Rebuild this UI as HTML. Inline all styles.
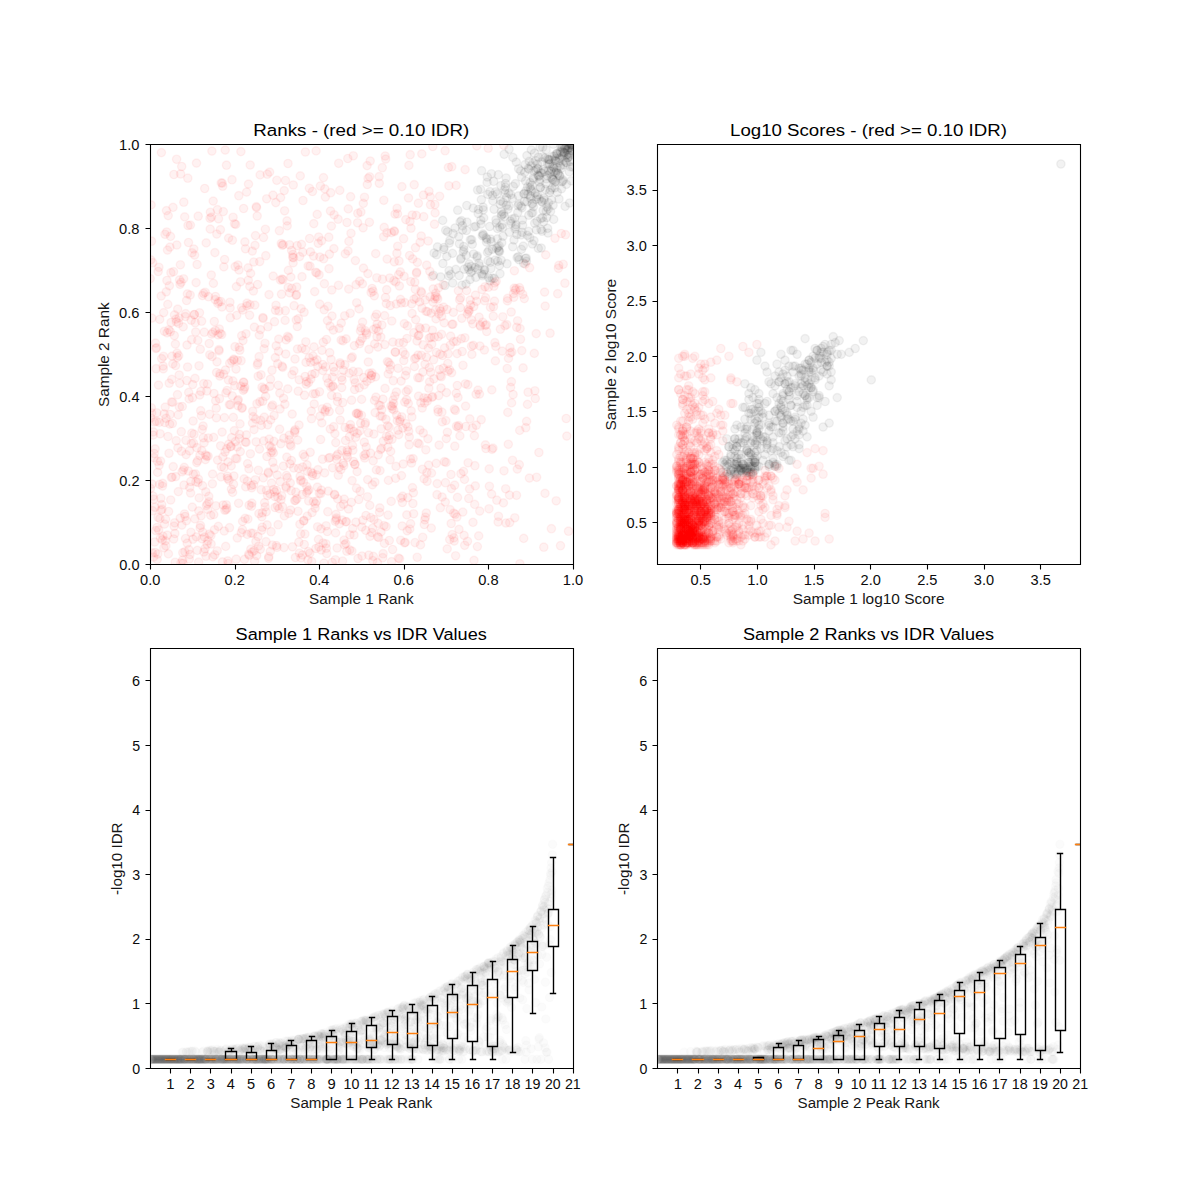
<!DOCTYPE html>
<html><head><meta charset="utf-8"><title>IDR</title>
<style>html,body{margin:0;padding:0;background:#fff}svg{display:block}text{font-family:'Liberation Sans', sans-serif}</style></head><body>
<svg width="1200" height="1200" viewBox="0 0 1200 1200">
<rect width="1200" height="1200" fill="#fff"/>
<defs>
<marker id="mr" viewBox="-6 -6 12 12" markerWidth="12" markerHeight="12" refX="0" refY="0" markerUnits="userSpaceOnUse" overflow="visible"><circle r="4.17" fill="#f00" fill-opacity="0.05" stroke="#f00" stroke-opacity="0.05" stroke-width="1.39"/></marker>
<marker id="mk" viewBox="-6 -6 12 12" markerWidth="12" markerHeight="12" refX="0" refY="0" markerUnits="userSpaceOnUse" overflow="visible"><circle r="4.17" fill="#000" fill-opacity="0.05" stroke="#000" stroke-opacity="0.05" stroke-width="1.39"/></marker>
<marker id="mg" viewBox="-6 -6 12 12" markerWidth="12" markerHeight="12" refX="0" refY="0" markerUnits="userSpaceOnUse" overflow="visible"><circle r="4.17" fill="#000" fill-opacity="0.0157" stroke="#000" stroke-opacity="0.0118" stroke-width="1.39"/></marker>
<clipPath id="c00"><rect x="150" y="144" width="423.2" height="420.5"/></clipPath>
<clipPath id="c01"><rect x="150" y="648" width="423.2" height="420.5"/></clipPath>
<clipPath id="c10"><rect x="657.3" y="144" width="423.2" height="420.5"/></clipPath>
<clipPath id="c11"><rect x="657.3" y="648" width="423.2" height="420.5"/></clipPath>
</defs>
<polyline clip-path="url(#c00)" points="164.6,524.1 422.7,537.3 350.8,428.3 355,464.2 336.6,455.9 347,222.5 161.6,358.6 322.5,459.2 451.4,488.6 292.5,546.8 412.1,313.5 180.2,518.2 433.9,378.8 251.7,487.8 387.4,361.6 159.7,319.4 444.6,347.9 514.8,517.8 445.9,420.6 213.8,514.6 395,214.1 450.1,509.6 396.7,415.1 376.2,328.2 177.9,447.9 168,436.5 249.3,555.4 368.8,555.2 474.7,504.4 164.2,413.9 193.8,249 346.1,338.9 369.8,505.4 166.3,291.8 318.2,243.3 192.1,252.8 209.6,414.3 228,461.9 312.5,191.5 399,261 303.9,520.5 204.3,332.2 372.4,484.8 392.2,408.6 356.1,284.7 358.4,371.9 299.9,524.3 184.7,216.9 315.9,548.5 257.8,363 192.3,507.1 398.8,434.6 222.9,456.9 359.2,387.8 275.5,310.3 319.7,304.2 196.7,462.6 265.4,229.3 324.2,309.7 475.3,485.9 252.5,423.1 279.8,393.1 406,423.7 188.5,242.5 261.8,516.8 281,499.7 269,294.6 457.5,497.4 375.3,317 201.6,321.2 302,276.7 268.2,472.2 197.6,460.7 289.5,244.8 399.4,286 262,387.2 369,349.4 236.7,315.4 366.4,333 413.4,492.8 157.2,559.6 320.4,186 367.9,273.6 267.1,524.9 381.2,428.8 425.4,517.2 411.7,303.8 184.2,467.4 162,509.2 354.2,379.6 513.5,293.5 372.1,288.5 279.1,508.6 454.6,485.2 287.8,388.9 315.1,508.1 153.8,499.3 346.6,455.2 311.9,374.4 258.2,376.3 171.8,379.4 210.7,515.3 290.3,482.9 210.4,212.3 198.2,216.2 306,362.4 206.4,505.6 277.2,475 354.6,389.5 234.5,223.8 194.6,255.1 266.5,490.3 182.1,471.8 285.7,354 153.6,557.1 301.3,480 388,515.1 173,207.4 183.4,470.1 156.1,368.7 161.2,296 199.2,497.9 324,563.2 326.5,339.5 392.9,342 401.7,416.8 152.3,552.9 208.5,296.7 249.6,315.2 177.7,309.1 369.4,222.3 379.8,507.9 266,541.7 168.6,511.5 233.9,476 362,556 338.3,475.2 272.2,451 303.7,521 151.3,407.8 314.2,404 191.6,339.7 227.8,560.9 425.8,449.8 492,449.3 355.9,522.2 162.7,483.4 454.4,409.2 244.9,241.9 468.1,462.8 269.8,386.3 235.8,224.4 241.9,408.4 380.8,337 467.5,541.3 405.3,542.4 406.8,514.9 162.3,539.9 181.3,431.7 529.4,478.1 254.8,305.1 233.7,359.2 326.7,553.5 170.9,272.7 479.7,511.1 355.7,437.2 327.8,511.7 447.2,548.9 163.3,368.9 295.4,557.5 474,560.4 273.4,452.9 362.4,283.9 219.1,350.9 264.3,417.2 517.6,320.8 314,346.9 196.1,282.6 395.2,351.9 289.9,463.8 294.6,500.6 204.5,537.1 207.7,509.4 268.6,558.3 281.7,495.8 197.8,340.4 476.3,425.2 371.1,292.5 476.1,394.3 297.5,349 393.5,403.6 320.6,439.5 213,332.4 157,527.5 367.5,496.8 234.1,360.1 250.8,549.1 220,373.7 167.3,535.2 397.9,430.2 383.3,441.2 178.1,414.9 177.5,394.7 305.8,341.8 326.9,378.2 201.1,515.7 460.9,473.7 292.7,257.2 197.3,550.4 169.7,424.1 401.3,303 284.9,404.2 164.8,422.5 184.9,551.8 159.9,518.6 363.1,227.8 286.1,339.9 220.8,301.5 293.7,468 202.6,485.7 237.9,265 386.5,436.3 445.5,482.7 211.5,217.1 381.9,325 433.6,359.7 162.5,486.1 352.3,356.9 422.2,408 437.9,409.4 229.3,404.6 263.3,477.9 414.8,282.2 310.4,251.9 201.4,415.7 453.7,513.2 170.1,414.5 412.7,258.9 270.3,551.4 188.9,549.7 284.6,210.8 319.3,493.2 373.4,556.4 206,556.2 300.1,476.4 200.9,391.4 308.1,266 380.6,449.6 395.6,478.3 293.5,257.8 229.9,302.3 336.2,519.7 269.4,445.6 291.6,250.5 511.9,352.1 169.9,247.1 336.4,518 203.1,426 245.1,518.4 361.2,327.8 176,319.1 189.3,559 349.3,373.1 278.5,351.3 237.1,446.8 200.1,527.9 485.9,448.5 455.4,410.5 408.5,198 311.1,472 474.9,465.7 238.8,195.7 227.4,476.2 262.9,317.5 355.4,260.6 248.7,554.3 362.6,322.1 165.2,407.1 284.4,515.9 382.5,279.2 346.4,521.6 262.7,401.2 276.4,545.5 335.6,532.9 341.7,387.6 150.2,278.6 238.1,405.7 309.8,553.3 323.1,543 154,457.7 312.1,512.5 174.1,526.2 243.8,382.4 410,221.5 195.9,481.9 358.8,499.5 231.2,465.9 339.2,467.2 172.6,402.3 203.7,383.6 156.3,421.2 291.4,460.5 332.4,377.1 192.5,397.7 322.7,364.5 287,220.9 301.8,348.3 388.2,374 233.1,217.3 274.3,468.2 419.5,377.9 170.3,331.7 471.9,354.4 363.9,455.6 351.9,551 212.1,356.5 242.6,521.4 154.7,542 292.9,254.5 328.8,237.2 351,233.3 259.7,261.6 205.6,455 215.3,330.5 416.3,215.4 224.4,417.6 151.1,204.9 231.8,361.1 187.4,293.9 347.8,158.5 498.5,516.3 404.3,323.6 280.8,443.7 232.6,492.4 454.2,541.1 192.7,384.5 462.8,512.1 285.5,180.5 399.8,421.6 315.7,272.3 409.3,437 429.8,271.3 226.9,508.4 212.4,483.8 267.7,424.8 221.7,334.5 295.6,500.4 289.1,439.9 240.3,451.6 377.6,536.7 187,345 293.3,185 283.4,466.1 379.3,183.3 414.4,366.6 326.1,525.8 458.6,425.6 259.1,356.7 234.3,430.6 314.9,373.5 213.2,201.1 420.5,544.9 266.7,198.8 441.7,316.4 345.7,521.8 158.5,385.1 281.3,243.5 442.3,421.8 254,429.6 282.9,279.7 471.5,346.2 333.9,248.6 191.4,443.5 400.3,271.9 384.4,543.4 319.1,274.8 221.4,466.8 231,446.6 290.1,444.5 395.4,352.3 183.8,202.2 271.3,447.4 325.2,410.1 276.2,345.8 239.2,347.3 332,316 304.3,544.5 260.8,420.4 368.5,432.8 379.1,176.6 459.9,435.9 383.1,553.7 193.3,474.3 253.6,484.6 512.5,460.3 211.1,544 228.6,238.1 375.5,376.9 329.2,411.5 425,364.1 172.2,477.1 564.9,283.2 272.8,462.2 249.8,286.4 368.1,178.4 244.3,389.1 216.6,372.5 364.3,442.2 221,476.9 303,200.5 159.3,422.2 259.9,401.7 403.2,464 274.1,415.5 223.3,211.6 480.1,325.2 255,245.4 345.1,427.5 427.3,401 334.1,214.8 189.1,398.9 187.8,178.2 505.7,488.8 310.8,379 304.9,534 168.8,329.9 420.8,402.7 421.2,236 185.9,440.3 169.2,383.2 218.9,349.6 432.6,396.6 337.7,498.9 177.3,357.4 315.3,503.7 255.5,235.6 365.2,330.7 313.2,393.9 241.3,532.7 309.4,188.3 228.4,380 239.8,350.2 160.1,433.8 349.1,428.6 246.2,442.4 298,511.3 456.1,185.4 193.5,443.2 160.8,498.3 253.4,291 215.1,299.6 242.2,407.6 269.2,439.1 417.4,262.4 448.9,185.8 155.5,343.1 316.6,501.2 288,163.5 357.8,213.3 217.6,460.1 367.7,479.6 297.1,245.6 268.4,473.3 351.4,502.3 166.1,418.3 360.5,330.9 251,533.1 152.1,484 247,303.2 244.5,559.4 251.2,485.5 259.3,335.1 437.2,483.6 416.7,272.1 244.1,478.9 311.3,411.1 178.3,491.6 389.9,369.3 237.3,538 333,385.9 321.6,240.8 385.7,159.1 424.1,478.7 400.7,540.3 200.7,410.7 382.9,399.1 261.6,530.2 265.6,396.4 205,548.7 214.3,321.5 534.9,390.8 165.4,540.9 196.3,536.9 277.9,497.2 353.1,371.4 190.2,295 282.7,367.4 306.2,384.2 330.5,211 340.4,364.3 241.5,307.8 248.9,468.7 252.7,411.3 201.8,450.6 156.8,412.8 344,540.1 151.7,413 365,424.4 414.2,184.7 246.6,192.1 264.6,502.7 350.2,313.3 374.5,400.4 343.2,463.2 254.4,327.1 317.8,366.4 293.1,262.9 338.1,219.2 364.5,197.3 378.1,523.3 245.5,248.8 257.4,364.9 511.6,402.9 158.2,271.5 301.1,308.6 287.2,225.9 380.2,416 194.4,314.5 331.4,226.1 356.9,413.6 489.2,468.9 284.2,190.6 434.3,337.2 372.8,560.6 302.2,494.5 229.7,363.2 333.7,426.7 203.3,437.8 388.8,362.6 325.4,197.1 398.6,274.6 161.8,504.6 390.7,451.4 288.4,270.4 270.9,452.7 175.2,562.3 380.4,405.5 255.7,419.1 267.9,326.7 273.6,489.5 448.4,167.5 429.6,381.9 407.7,497.6 378.5,331.1 313,355.9 403,351.7 418.9,335.3 302.6,467 443.2,284.9 218.1,334.9 347.2,450 260.1,174.9 465.8,426.5 451.2,523.5 208.8,496.4 342.3,520.1 288.2,287.4 152.7,262.7 358,558.5 328.6,458.2 224.8,510.2 285.9,486.5 177.1,353.2 489,508.8 275.8,202.6 307,464.9 309.6,238.5 286.8,457.1 370.9,378.6 288.7,337.6 342.6,561.1 410.6,523.7 394.8,396 385.9,419.3 246,333.8 204.1,442.8 334.7,494.9 294.1,305.7 237.5,360.3 273.9,441.4 389.3,540.5 370.5,453.1 278.1,524.7 316.3,474.8 216.2,408.2 315.5,393.7 236,369.1 332.8,386.6 413.1,458.6 256.9,403.8 257.2,216 316.8,272.9 404.5,542.8 424.8,519.9 264.1,348.8 161,510.4 458.4,290.8 186.4,520.7 214.7,554.8 451,474.5 248.1,267.9 329.4,254.2 215.7,400.8 331.6,395.4 222.5,561.9 172.8,363.9 179,317.9 438.3,336.6 282.1,366.2 319.9,257 383.8,200.3 456.9,517 535.3,398.5 396.2,304 175.8,476.6 536.6,477.3 442.1,497 390.1,459.8 228.2,563.6 181.1,282.4 409.1,444.7 332.2,562.5 521.8,350.6 232.2,395.8 188,225.5 337.5,401.5 250.6,273.4 347.6,451.9 157.6,472.4 321.2,550.1 420.3,328.8 373.8,434 278.7,339.1 386.7,289.7 387.6,425.8 274.5,321.7 344.2,499.1 263.7,440.9 287.4,477.7 198.4,479.2 481.2,419.7 397.7,246.3 393.3,380.7 218.7,301.7 168.4,553.9 158.7,530 218.3,526.4 375.7,253.6 300.9,557.9 283.6,398.3 327.3,531.5 273.2,276.1 173.7,539 205.8,491.8 286.3,488 366.2,447 211.7,334.1 234.8,385.7 296.7,287 561.3,233.5 455.2,514.2 235.6,458.4 376.6,314.3 479.9,346 445.3,502.1 252.9,533.3 226.1,509.8 340.6,506.5 359.9,430.9 191.2,320.2 363.7,377.5 207.5,384 335.8,442.6 351.2,358.2 328.2,491.1 263.1,318.5 343.8,465.5 194,434.2 202.2,429.4 314.4,361.4 256.1,441.8 233.3,417.4 319.5,391.8 523.1,367.9 153.2,435.1 348,250.9 214.5,529.8 367.1,165.6 360.7,423.3 165.6,519.3 163.1,366 388.4,480.4 231.4,489.2 205.4,459.6 360.3,341.2 339.6,410.3 264.8,389.3 374,519.5 344.5,544.7 182.6,560.2 203.5,293.3 402.6,496.2 396.9,253.2 199.7,395 300.5,480.8 175.4,344.1 161.4,152.6 235.2,266.6 154.9,507.3 214,393.5 377.4,562.7 276.6,490.5 343,340.8 238.3,399.6 253.8,262 514.2,288.1 395.8,282 296.3,320 263.5,237.5 266.2,511.9 502.3,351.1 339.8,190.4 325.9,543.8 182.8,552.7 408.9,165.4 194.8,518.9 279.4,230.7 343.4,370.4 235.4,441.6 411.5,463 398.4,558.1 246.4,434.9 274.7,492 223.6,374.2 390.3,305.5 361.8,527 256.5,207.6 258,536.5 208.1,456.1 160.6,461.1 154.4,422 436.2,463.4 321.4,490.1 391.2,501.4 196.9,447.7 339.4,523.9 508.5,358.4 392.6,549.5 164.4,331.3 371.9,372.9 176.2,440.7 369.2,373.3 303.2,454.4 226.7,448.7 307.9,560 173.2,466.6 272,370.2 198,482.5 293.9,370.8 446.1,462.4 424.6,403.1 225.5,370 185.7,313.7 354.8,464.5 419.9,430 223.8,266.9 386.9,232.8 235,346.7 276,305.3 285.3,310.7 418.4,203.2 346.8,551.2 298.8,542.2 209,501.8 206.6,456.3 273,195.2 254.2,550.6 208.3,438 417.6,443 209.4,534.2 156.6,347.7 307.3,516.1 299.4,553.1 176.6,159.3 328,306.3 391.8,321 455.6,555.8 289.7,292.9 195.4,473.9 338.5,285.3 392,439.3 166.7,232 283.2,244.6 381,531.9 384.8,344.6 305.6,349.8 441.9,412.2 207.3,503.9 366.6,334.7 189.9,554.5 348.3,208.9 153,496 519.3,464.7 200.5,525.4 255.3,479.8 174.9,533.5 305.1,376.5 389.7,278 449.7,539.6 469.8,418.9 403.6,238.7 190.6,493 519.7,430.4 249.1,505.2 402.4,502.5 305.4,152 371.3,375.2 280.6,197.6 342.8,402.5 294.4,431.1 311.7,561.5 290.6,510 389.5,435.5 365.8,530.4 304.1,312.2 392.4,406.3 259.5,449.1 328.4,383 313.6,256.1 493,448.1 371.7,532.5 403.4,342.5 275.1,507.5 382.1,416.4 308.9,489.9 195.2,322.7 357.3,433.4 438.7,395.6 479.5,394.1 333.3,330.1 295.8,492.2 384,525.6 150.6,418.1 277.7,363.7 241.1,360.7 464.5,479.4 318.5,539.4 348.5,509 299.6,256.6 192.9,539.2 322,350.4 468.7,498.5 464.7,545.3 306.6,492.6 402.2,526 331.8,290 171.3,477.5 362.8,520.3 247.6,463.6 239,270 243.6,208.5 411.9,417 412.9,503.5 344.9,364.7 493.3,316.2 453.3,312.4 242.4,529.6 306.4,381.5 393.9,280.7 402.8,428.1 485.6,297.7 172.4,423.5 330.9,386.8 422.4,469.3 338.7,163.3 385.5,297.5 207.1,544.3 299.2,379.8 317,359.9 248.3,280.3 352.7,528.5 456.7,341.4 407.9,426.9 271.1,531.7 331.1,359.5 434.9,204.5 178.7,355.7 414.6,358.8 307.5,471.2 360.9,212 295,359 318.7,237 387.8,447.2 179.4,406.9 301.5,244.4 174.7,522.8 383.6,236.8 277,547.4 187.2,543.2 230.1,308 195.7,332 263.9,388.7 272.6,405 213.6,437.4 250,304.7 217.8,303.4 247.4,481.1 359.5,343.7 184.5,514 223.1,505 381.4,448.3 435.1,212.9 294.8,432.5 300.7,533.8 254.6,561.3 370.7,517.6 236.4,286.6 409.6,255.5 270.7,419.9 219.8,376.1 231.6,437.6 189.5,450.8 400.9,498.1 251.5,506.2 203.9,552 317.2,214.4 463.5,471.4 302.4,555 252.1,552.2 245.3,442 325.6,366.8 174.3,335.5 327.1,407.3 155.7,530.6 349.7,549.9 452.9,324.2 275.3,357.6 183,563.4 285.1,320.4 200.3,349.2 396,466.4 160.4,538.2 425.6,328 413.6,513.8 227.6,478.5 388.6,439.7 185.5,538.6 496.8,500.2 345.3,253.8 256.7,555.6 243,340.6 362.2,338.2 520.5,339.3 391,405.9 187.6,367 300.3,175.9 401.1,381.1 391.6,561.7 473.4,345.4 220.2,333.4 272.4,545.1 265.2,506.9 202,538.8 284,547.6 337.1,548 409.8,529.1 380,470.6 374.3,295.8 229.1,480.2 225.9,392.9 169,453.3 166.9,280.5 281.5,294.2 226.5,165.2 308.5,382.6 202.8,532.1 489.4,486.3 190.4,225.1 183.6,278.8 258.9,513.6 433.2,288.9 261.2,489.7 243.2,390.3 437,494.7 287.6,336.4 447.4,432.3 407,338.5 320.1,416.2 410.8,281.6 427.9,438.8 516.7,327.3 354.4,345.6 266.9,456.5 379.5,512.3 191.8,433.2 282.5,506.7 352.9,450.2 440.8,311.2 526.6,421.4 222.1,432.1 262.4,512.8 261,374.8 473,522.4 152.5,510.7 198.8,510.9 373.6,329.4 386.1,526.6 298.4,318.7 170.7,500 427.1,481.3 165.9,545.9 233.5,484.2 250.2,165 179.8,383.4 374.7,343.9 210.9,535.6 439.1,445.1 357.6,222.8 431.3,528.1 157.4,461.3 335.4,559.8 199.5,312.8 441,388 459,529.4 209.8,354.8 172,356.1 289.3,435.3 373.2,460.9 440.2,375.8 347.4,457.3 279.6,429.2 277.5,506 515.2,290.2 158,517.4 351.6,400.2 341.9,450.4 232.9,380.9 224.2,531 350.4,424.6 219.3,329 204.7,188.5 186.8,380.5 403.8,360.5 340,362.8 430.3,196.9 411,228.2 215.9,505.8 321.8,422.9 292,374.6 186.1,454.6 181.9,525.1 375.1,412.6 419.3,327.5 210,218.3 163.7,312.6 423.7,216.7 189.7,487.4 309.2,357.8 261.4,425.4 199,365.8 240,423.9 244.7,387 296.5,294.8 242.8,310.1 333.5,367.2 374.9,482.1 184,485 194.2,314.7 304.5,395.2 151.9,318.1 180,284.3 320.8,493.6 175.6,365.6 230.5,404.8 509.5,495.1 372.6,528.3 340.9,469.5 217,361.8 213.4,283.4 356.5,488.2 218.5,218.8 377.2,324 366,515.5 491.6,494.1 329,268.7 415,542.6 268.8,556.6 256.3,206.6 258.4,470.3 191,532.3 307.7,490.9 311.5,418.7 247.2,534.4 464.1,535.4 397.1,208.3 361.4,415.3 267.5,495.5 310.2,452.3 423.5,195 159.1,465.3 271.7,406.7 183.2,326.9 229.5,527.7 330.3,429 400,419.5 477.4,546.6 306.8,486.7 422,308.2 282.3,245.2 400.5,299.4 343.6,504.2 394.3,261.8 410.4,459 394.5,231.6 225.7,546.4 195,378.4 262.2,527.2 216.4,417.8 157.8,554.1 181.5,451.2 317.6,526.8 185.3,316.6 310.6,362.2 344.7,315.8 219.5,398.7 365.4,422.7 323.3,342.2 167.5,250.1 296.1,295.4 381.7,409.7 190.8,481.5 349.9,534.8 150.4,488.4 444.4,461.7 339,328.4 356.7,302.8 180.6,174 349.5,436.7 162.9,536.1 295.2,429.8 274.9,496.6 324.6,472.9 427.5,311.6 186.6,300.5 298.6,468.4 240.7,386.1 385,388.4 291,446 419.7,301.9 422.9,372.1 426.5,357.2 423.1,344.8 406.4,371 448,371.2 406.6,399.8 441.3,376.7 296.9,498.7 452,324.4 438.1,412 425.2,300 440,354.2 375.9,397.1 435.6,309.9 457.1,353.6 486.3,324.8 421.4,355.3 494.7,282.8 513.8,297.3 364.1,384.9 430.9,337.4 408.1,389.7 436.8,297.1 398.1,368.3 482.1,289.5 490.5,307.4 358.6,414.7 514.4,270.8 405.5,375.4 378.9,405.2 291.2,490.7 313.4,501.6 447.8,363.5 471.3,319.8 431.7,344.3 438.5,287.9 480.4,326.3 430.1,296.9 435.3,296.3 217.2,550.8 473.8,306.5 418.6,396.2 389.1,427.1 304.7,456.7 475.5,295.2 418.2,335.9 312.8,473.5 493.5,306.8 378.3,454.8 396.4,392 485,286.8 449.5,369.8 399.2,342.9 417.8,377.7 516.1,288.7 377.9,347.1 466.6,290.6 472.8,323.8 421.6,292.7 450.6,336.2 303.4,482.3 404.7,402.1 286.5,475.4 416.1,298.1 393.1,400 468.3,309.3 429.2,338 461.3,338.7 493.9,286.2 280.2,481.7 460.5,297.9 406.2,391.6 207.9,540.7 357.1,471.6 238.6,503.3 353.8,431.5 393.7,409.9 337.3,396.8 428.8,388.2 428.4,348.1 332.6,467.8 426,311.4 418,355.1 325,411.8 297.7,440.1 352.5,445.4 443.6,307.2 520.3,290.4 356.3,413.4 450.3,345.2 464.9,337.8 461.8,318.3 414,299.2 417,341 484.6,300.7 439.8,308.4 415.9,358 358.2,413.2 468.5,311.8 536.2,333.6 308.7,501 446.5,392.6 432,397.3 467.3,314.1 415.3,289.3 430.5,204.7 434.5,224.2 558.8,265.4 486.7,331.5 525.2,264.1 444.2,322.9 253.1,416.6 423.9,397.9 437.7,299 416.5,273.2 508.3,444.3 485.2,325.4 373,291.2 507.4,300.9 495.4,360.9 458,397.5 520.1,328.6 494.9,342.7 419.1,443.9 376.4,469.9 329.9,457.5 511.2,312 387.1,259.1 429,191.3 472.5,427.9 557.7,293.7 434.7,298.8 529.6,267.7 441.5,334.3 280,409 436,318.9 428.2,241 563.2,264.3 510.6,387.4 502.8,316.8 510,347.5 460.3,307.6 456.5,426.2 545.7,254.9 421,291.4 463,365.3 544.6,292.1 426.9,472.7 448.2,353.8 555,238.3 485.4,444.9 341.1,340.1 401.5,475.6 465.6,406.1 458.2,427.3 459.6,299.8 513.1,394.5 451.6,372.7 365.6,454 476.6,301.3 376.8,277.8 363.5,268.1 440.4,507.7 439.6,196.3 408.3,403.4 524.3,298.6 507.8,412.4 482.7,322.3 397.3,420.8 432.2,276.5 415.5,247.7 467.9,384.7 451.8,166.7 503.8,145.3 507.2,368.5 335.2,521.2 494.5,301.1 528.1,392.2 558.4,268.3 496.2,281.3 479.1,317.2 470.6,304.9 488.4,287.2 435.8,293.1 453.5,341.6 474.4,435.7 491.8,389.9 500.4,329.2 405.8,219.6 465.1,169.6 250.4,453.8 527.5,404.4 510.2,353 360.1,491.3 506.8,324.6 408.7,431.3 405.1,354.6 334.5,494.3 565.5,234.7 404.9,302.6 457.3,385.5 390.5,365.1 442.5,355.5 180.9,563 361.6,399.4 366.9,381.3 447,309.5 298.2,391.2 523.7,538.4 243.4,382.1 498.1,522 420.1,242.3 504,470.8 283.8,438.2 302.8,252.2 239.4,438.4 430.7,372.3 225.2,150.1 257.6,284.5 222.3,183.1 423.3,433 220.4,229.7 509.7,522.6 507.6,298.4 290.8,277.1 354,535 370.2,161 469.4,310.5 260.3,549.3 519.9,563.8 503.4,502.9 412.3,215 377,336.8 214.9,252.6 170.5,236.4 566.8,436.1 198.6,562.1 336,514.4 370,536.3 299,425 260.5,329.6 384.6,315.6 230.7,446.4 318.9,547 433,302.1 504.9,325.7 318,469.7 453.9,537.8 150.8,259.9 173.5,271.7 432.8,146.5 355.2,382.8 245.7,486.9 226.3,504.8 267.3,174.2 538.9,452.5 212.6,474.1 336.8,459.4 369.6,176.8 211.3,275 431.5,473.1 281.9,279 280.4,280.1 291.8,288.3 345.5,440.5 312.3,475.8 321,528.9 169.4,285.8 173.9,174.5 505.9,523 158.9,267.3 181.7,166.5 228.8,444.1 431.1,313.1 391.4,232.6 462.2,351.5 378.7,537.5 323.7,258.7 517.3,469.1 415.7,319.6 439.4,369.5 155.1,448.9 478,390.1 247.9,519.1 221.9,307 255.9,541.5 495.8,346.4 525.8,427.7 215.5,296.5 352.1,480.6 476.8,145.9 248.5,184.1 241.7,335.7 534.3,353.4 371.5,375.6 171.1,322.5 456.3,393.3 429.4,367.6 516.5,495.3 566.2,418.5 436.4,352.5 364.7,458 556.2,500.8 308.3,551.6 174.5,314.9 252.3,251.1 384.2,227.4 411.2,410.9 330.1,326.1 413.8,332.6 270.1,493.9 310,266.2 278.9,311 545,493.4 550.1,333.2 519.5,287.6 278.3,385.3 206.9,391 443.4,368.1 511.4,381.7 199.9,455.4 323.5,177.6 353.3,155.8 560.5,545.7 182.3,406.5 171.6,401.9 382.3,167.7 551.4,528.7 224,467.6 438.9,313.9 179.6,279.9 269.6,172.1 568.5,531.2 236.2,559.2 155.9,348.5 236.9,458.8 258.6,546.1 368.3,362 445.1,150.7 165,234.3 297.3,326.5 197.1,264.5 163.9,547.8 394.1,230.9 488.2,148.2 202.4,295.6 271.5,483.1 417.2,557.3 193.1,421 363.3,203.4 240.9,151.6 246.8,305.9 484.4,350 426.7,265.2 159.5,484.4 545.2,306.1 469.6,489 240.5,281.8 454.8,446.2 211.9,151.1 330.7,192.7 179.2,375 288.9,513.4 317.4,487.1 359.7,281.1 210.2,229.1 180.4,264.8 176.8,245 465.4,383.8 367.3,184.5 322.3,408.8 426.3,513 225,452.1 348.9,241.4 428.6,465.1 166.5,210.6 452.2,534.6 313.8,223.6 412.5,487.6 292.2,414.1 220.6,445.8 188.3,471 348.7,289.1 334.9,433.6 432.4,330.3 397.5,213.9 399.6,558.8 382.7,557.7 232.4,240.2 155.3,552.5 407.4,325.9 446.3,438.6 340.2,420.1 167.1,332.8 427.7,398.1 522.8,294.4 237.7,400.6 206.2,242.9 341.5,377.3 176.4,321.9 151.5,241.2 342.1,380.2 329.7,352.7 185.1,516.5 251.9,503.1 276.8,180.3 154.2,453.5 322.9,370.6 334.3,371.6 196.5,163.1 232,179.7 350.6,196.7 326.3,548.2 217.4,209.7 407.2,530.8 227.1,390.5 345.9,543.6 167.8,304.4 470.2,300.2 222.7,186.2 209.2,343.5 221.2,182.9 359,308.9 424.3,524.5 543.8,547.2 168.2,215.6 265.8,255.7 421.8,153.9 314.7,291.6 163.5,356.3 324.4,283.7 230.3,317.7 265,343.3 153.4,431.9 188.7,392.4 353.5,461.5 401.9,186.6 386.3,303.6 327.5,320.6 216.8,234.1 205.2,292.3 212.8,556.9 478.7,535.9 324.8,188.9 239.6,434.4 404.1,276.3 385.2,156 410.2,154.7 224.6,259.5 337.9,454.2 178.5,323.3 341.3,323.1 270.5,379.2 316.1,150.9" fill="none" stroke="none" marker-start="url(#mr)" marker-mid="url(#mr)" marker-end="url(#mr)"/>
<polyline clip-path="url(#c00)" points="489.7,226.5 543.6,221.7 500.9,185.6 445.7,230.3 522,207.8 466.2,255.3 452.7,283 490.1,280.9 466.8,205.5 434.1,253 483.3,209.9 508.9,206 487.8,194.4 546.3,211.2 478.9,263.1 433.4,275.3 531.9,185.2 444,247.5 525.6,181 501.3,215.8 449.3,243.1 467,222.1 442.9,263.5 491.1,241.7 572.1,149 539.8,179.1 497.3,238.9 475.9,277.4 536.8,196.5 510.8,194.6 556,161.2 488.8,250.7 532.4,244 520.9,206.2 472.3,244.2 492.6,195.5 500.2,204.3 462,285.1 473.2,208.1 552.2,156.4 554.1,171.9 552.6,179.5 530,187.5 527.9,194.2 496.6,248.2 564.3,148.8 555.4,158.7 555.2,160.4 547.2,175.5 501.5,211.8 571.7,144.6 464.3,269.2 525,164.6 565.3,148.6 440.6,276.9 484.2,270.2 564.7,152.4 553.9,167.9 477.2,255.9 452.5,253.4 493.7,181.4 524.5,201.5 570,148 536,199.4 521.6,177.2 486.1,237.9 555.6,181.6 535.5,160.8 483.5,235.1 567.9,157.7 523.9,194 503.6,213.7 517.8,212.5 538.1,169.2 533.2,177.8 488,260.8 537.6,194.8 569.8,153 437.5,246.9 540.8,218.6 529.2,161.4 568.3,148.4 572.3,146.1 482.3,235.8 499.4,265.6 478.5,209.5 502.1,224.6 559.8,176.1 481.8,274 563.4,164.8 470.8,272.5 466,284.1 484,274.2 556.5,170.5 462.6,230.1 553.5,180.1 545.9,183.9 533.6,179.3 490.9,268.5 490.7,239.1 500,273.8 547.4,158.9 487.5,252.4 561.1,168.2 487.1,182.4 502.6,227.6 566.6,154.9 542.5,217.7 527.1,201.8 512.7,246.7 557.3,192.3 538.3,248.4 504.7,189.8 530.9,189.2 561.7,181.8 499.6,251.5 479.3,265.8 461.1,258.2 540.2,187.7 536.4,229.9 515.4,183.7 535.1,192.9 552.9,166.3 512.1,219 550.3,190.2 551.8,169 463.2,251.7 495.2,260.1 544.8,158.1 497.9,247.3 549.5,192.5 492.4,249.2 516.9,234.5 538.5,157.2 563.6,152.8 562.4,146.9 560,151.4 546.5,178.7 530.7,198.6 519,259.7 518.8,204.1 526,190.8 548.4,202.8 572.5,144.4 567.4,149.5 570.6,145.1 525.4,258.5 486.5,242.1 470,279.5 459.2,275.5 530.5,196.1 560.7,152.2 563.8,155.3 556.7,153.7 518.2,256.8 499,251.3 522.4,220 568.9,147.6 463.9,249.8 529,169.4 535.7,170 537.4,164.2 450.8,274.4 504.5,216.5 521.2,234.9 549.7,163.7 449.1,270.6 455.8,269.4 505.5,183.5 537.2,168.6 515.7,226.7 550.7,160 506.1,178 539.1,175.7 532.1,203.6 527.7,186.8 505.3,187.1 557.5,154.5 560.3,166.1 568.7,157 558.1,173.6 549.9,173.4 509.3,232.2 548.8,159.5 501.7,242.7 547.8,164 480.8,220.2 557.1,167.3 539.5,182 567.7,157.9 467.7,267.1 468.9,269.8 544.2,200.1 554.8,187.9 482.5,275.7 518,205.7 540.4,187.3 541.7,161.9 552.4,178.9 564.5,160.6 541.4,201.3 523.3,246.1 554.3,156.2 524.1,193.6 495.6,191.9 473.6,254 507,263.7 534.7,223.2 537.9,175.1 472.1,271.1 499.8,227.2 548.6,170.3 533.4,206.8 562.2,156.6 531.1,165.8 501.1,260.3 492.8,200.7 549.1,159.8 558.6,162.5 540.6,172.8 508.7,193.4 496.4,223 522.6,225.3 505.1,193.1 514,240 559.6,158.3 556.9,153.5 552,188.1 482.9,233.9 501.9,214.6 466.4,230.5 490.3,262.2 483.1,207.2 570.4,166.9 512.3,198.4 571.2,180.8 528.6,231.4 460.1,221.9 526.9,155.6 532.6,203.9 570.2,161.6 569.6,203 570.8,144 538.7,176.3 481.4,199.7 477,257.4 561.5,188.7 459.4,243.8 457.7,210.2 571.5,150.3 569.1,155.1 458.8,236.6 460.7,259.3 436.6,254.7 524.7,172.4 516.3,162.1 497.7,261.2 545.5,189.6 566,145.7 469.2,263.9 542.7,147.2 544,198.2 522.2,232.4 565.8,162.3 560.9,146.7 515.9,224.9 547.6,228.4 571.9,150.5 542.3,202 562.8,181.2 513.3,186.4 517.1,257.6 543.3,169.8 503.2,202.4 571,144.8 443.8,249.6 531.5,213.1 561.9,147.8 526.2,258 530.2,182.6 568.1,154.1 567.2,162.9 471.7,239.6 447.6,231.8 477.8,269 442.7,220.4 548,233 546.7,217.5 475.7,226.3 567,145.5 489.9,191.7 508,209.1 484.8,269.6 563,179.9 559,199 496,219.8 500.7,200.9 477.6,190 446.8,256.4 572.7,167.1 509.1,149.3 527.3,235.4 463.7,246.5 492.2,278.2 515,228.8 461.5,220.7 569.3,171.7 499.2,245.9 531.7,191 555.8,172.6 559.2,160.2 521.4,249.4 541.9,173 498.7,250.3 534,240.6 448.7,275.9 542.1,231.2 553.7,219.4 444.9,285.5 531.3,149.9 520.7,170.9 475.1,267.5 518.4,195.9 564.1,146.3 534.5,153.2 514.6,218.1 551.2,177.4 455,228 497.1,193.8 528.3,168.4 480.6,189.4 518.6,168.8 487.3,177 544.4,171.5 470.4,239.8 453.1,233.7 449.9,240.4 491.4,173.8 497.5,228.6 483.7,217.9 528.8,215.2 474.2,227 540,147.4 549.3,164.4 557.9,173.2 494.1,209.3 462.4,225.7 481.6,170.7 562.6,151.8 494.3,278.4 526.4,261.4 471.1,266.4 533,162.7 559.4,175.3 488.6,277.6 478.2,213.5 533.8,171.1 553.1,205.3 542.9,156.8 481,224 548.2,208.7 504.2,154.3 553.3,144.2 554.5,182.2 512.9,157.4 566.4,184.3 537,221.3 551.6,199.9 523.5,263.3 498.3,174.7 551,171.3 539.3,199.2 529.8,237.7 506.4,205.1 532.8,212.7 546.1,149.7 543.1,210.4 546.9,207 486.9,239.3 541,229.5 550.5,211.4 506.6,197.8 511,223.4 541.2,248 565.1,206.4 510.4,221.1 503,236.2" fill="none" stroke="none" marker-start="url(#mk)" marker-mid="url(#mk)" marker-end="url(#mk)"/>
<path d="M150.5 144.5H573.5V564.5H150.5Z" fill="none" stroke="#000" stroke-width="1.1" stroke-linejoin="miter"/>
<path d="M150.5 564.5v5M235.5 564.5v5M319.5 564.5v5M404.5 564.5v5M488.5 564.5v5M573.5 564.5v5" stroke="#000" stroke-width="1.1" fill="none"/>
<path d="M150.5 564.5h-5M150.5 480.5h-5M150.5 396.5h-5M150.5 312.5h-5M150.5 228.5h-5M150.5 144.5h-5" stroke="#000" stroke-width="1.1" fill="none"/>
<polyline clip-path="url(#c10)" points="678.7,537.1 716.8,541 700.8,515.4 700.8,525.3 696.8,521.3 698.8,438.8 678.7,497.8 694.8,523.3 730.9,531.2 690.7,541 712.8,484 678.7,537.1 722.8,503.7 686.7,531.2 706.8,499.7 676.7,486 728.9,495.8 765,537.1 728.9,513.5 682.7,535.1 708.8,432.9 730.9,535.1 708.8,511.5 704.8,489.9 678.7,519.4 678.7,517.4 686.7,542.9 702.8,542.9 742.9,535.1 678.7,511.5 680.7,462.4 698.8,491.9 702.8,535.1 678.7,478.1 694.8,456.5 680.7,462.4 682.7,511.5 684.7,523.3 694.8,409.4 708.8,466.3 692.7,537.1 682.7,489.9 702.8,529.2 706.8,509.5 700.8,474.2 700.8,501.7 692.7,537.1 680.7,434.9 694.8,542.9 686.7,499.7 680.7,535.1 708.8,517.4 682.7,523.3 700.8,505.6 688.7,484 694.8,482 680.7,523.3 688.7,444.7 694.8,484 742.9,529.2 686.7,513.5 690.7,505.6 710.8,513.5 680.7,456.5 688.7,537.1 690.7,533.1 688.7,478.1 732.9,533.1 704.8,486 680.7,486 692.7,472.2 688.7,527.2 680.7,523.3 690.7,458.5 708.8,476.1 688.7,505.6 702.8,495.8 684.7,484 702.8,489.9 712.8,531.2 676.7,544.9 694.8,403.5 702.8,470.3 688.7,537.1 704.8,515.4 718.8,537.1 710.8,482 680.7,525.3 678.7,535.1 700.8,503.7 765,478.1 702.8,476.1 690.7,535.1 732.9,529.2 690.7,505.6 694.8,535.1 676.7,533.1 698.8,521.3 694.8,501.7 686.7,501.7 678.7,503.7 682.7,537.1 690.7,529.2 682.7,431 680.7,434.9 692.7,499.7 682.7,535.1 690.7,527.2 700.8,505.6 684.7,440.8 680.7,464.4 688.7,531.2 680.7,527.2 690.7,497.8 676.7,542.9 692.7,529.2 706.8,537.1 678.7,427 680.7,525.3 676.7,499.7 678.7,478.1 680.7,533.1 694.8,544.9 696.8,491.9 706.8,493.8 708.8,511.5 676.7,542.9 682.7,480.1 686.7,484 678.7,484 702.8,438.8 704.8,535.1 688.7,541 678.7,535.1 684.7,527.2 700.8,542.9 698.8,527.2 688.7,521.3 692.7,537.1 676.7,509.5 694.8,509.5 680.7,491.9 684.7,544.9 718.8,521.3 750.9,521.3 700.8,537.1 678.7,529.2 732.9,511.5 686.7,456.5 738.9,523.3 688.7,505.6 684.7,440.8 684.7,509.5 704.8,491.9 738.9,541 710.8,541 710.8,537.1 678.7,541 678.7,515.4 779,527.2 686.7,482 684.7,497.8 696.8,542.9 678.7,470.3 744.9,535.1 700.8,517.4 696.8,535.1 728.9,542.9 678.7,499.7 692.7,542.9 740.9,544.9 688.7,521.3 702.8,474.2 682.7,495.8 688.7,513.5 769,486 694.8,493.8 680.7,474.2 708.8,495.8 690.7,523.3 692.7,533.1 682.7,541 682.7,535.1 688.7,542.9 690.7,533.1 680.7,491.9 742.9,515.4 702.8,478.1 742.9,507.6 692.7,495.8 706.8,509.5 694.8,517.4 682.7,489.9 676.7,539 702.8,533.1 684.7,497.8 686.7,542.9 682.7,501.7 678.7,539 708.8,515.4 704.8,519.4 678.7,511.5 678.7,507.6 692.7,493.8 696.8,503.7 680.7,537.1 734.9,527.2 690.7,464.4 680.7,542.9 678.7,513.5 708.8,482 690.7,509.5 678.7,513.5 680.7,542.9 676.7,537.1 702.8,444.7 690.7,491.9 682.7,480.1 692.7,525.3 680.7,529.2 684.7,468.3 706.8,517.4 728.9,529.2 682.7,434.9 704.8,487.9 722.8,497.8 678.7,529.2 700.8,497.8 716.8,509.5 724.8,511.5 684.7,509.5 688.7,527.2 712.8,474.2 694.8,462.4 680.7,511.5 732.9,535.1 678.7,511.5 712.8,464.4 688.7,542.9 680.7,542.9 690.7,431 694.8,531.2 702.8,542.9 682.7,542.9 692.7,527.2 680.7,505.6 692.7,468.3 704.8,521.3 708.8,527.2 692.7,464.4 684.7,480.1 696.8,537.1 688.7,519.4 690.7,462.4 763,495.8 678.7,460.4 696.8,537.1 680.7,515.4 686.7,537.1 700.8,487.9 678.7,486 680.7,544.9 698.8,501.7 690.7,495.8 684.7,519.4 680.7,539 748.9,521.3 732.9,511.5 710.8,417.2 694.8,527.2 742.9,525.3 684.7,413.3 684.7,527.2 688.7,486 700.8,466.3 686.7,542.9 702.8,487.9 678.7,509.5 690.7,537.1 704.8,472.2 698.8,537.1 688.7,509.5 688.7,541 696.8,539 698.8,505.6 676.7,472.2 684.7,509.5 692.7,542.9 694.8,541 676.7,523.3 694.8,535.1 678.7,539 686.7,503.7 710.8,438.8 680.7,529.2 700.8,533.1 684.7,525.3 698.8,525.3 678.7,509.5 682.7,503.7 676.7,513.5 690.7,523.3 696.8,501.7 680.7,507.6 694.8,499.7 690.7,438.8 692.7,495.8 706.8,501.7 684.7,434.9 688.7,525.3 714.8,503.7 678.7,489.9 740.9,497.8 702.8,521.3 700.8,542.9 682.7,497.8 684.7,537.1 676.7,541 690.7,464.4 696.8,452.6 700.8,448.6 686.7,466.3 682.7,521.3 682.7,489.9 712.8,434.9 682.7,513.5 676.7,425.1 684.7,497.8 680.7,478.1 698.8,368.1 754.9,537.1 710.8,487.9 690.7,519.4 684.7,531.2 732.9,541 680.7,503.7 736.9,535.1 690.7,397.6 708.8,513.5 694.8,470.3 710.8,517.4 720.8,470.3 684.7,535.1 682.7,529.2 688.7,513.5 682.7,491.9 692.7,533.1 690.7,517.4 684.7,521.3 704.8,541 680.7,493.8 690.7,401.5 690.7,525.3 704.8,399.5 712.8,499.7 696.8,539 734.9,515.4 686.7,497.8 684.7,515.4 694.8,501.7 682.7,421.1 714.8,541 688.7,417.2 726.8,486 698.8,537.1 676.7,503.7 690.7,456.5 726.8,513.5 686.7,515.4 690.7,472.2 740.9,493.8 696.8,460.4 680.7,519.4 708.8,470.3 704.8,541 694.8,470.3 682.7,525.3 684.7,519.4 690.7,519.4 708.8,495.8 680.7,421.1 688.7,519.4 696.8,511.5 688.7,493.8 684.7,495.8 696.8,486 692.7,541 688.7,513.5 702.8,517.4 704.8,391.7 734.9,517.4 704.8,542.9 680.7,527.2 686.7,529.2 763,523.3 682.7,541 684.7,452.6 704.8,501.7 696.8,511.5 716.8,499.7 678.7,527.2 823.1,474.2 688.7,523.3 686.7,476.1 702.8,395.6 686.7,505.6 682.7,501.7 702.8,519.4 682.7,527.2 692.7,419.2 676.7,513.5 686.7,509.5 708.8,525.3 688.7,511.5 682.7,431 744.9,487.9 686.7,458.5 698.8,515.4 718.8,507.6 696.8,432.9 680.7,507.6 680.7,393.6 758.9,531.2 694.8,503.7 692.7,539 678.7,489.9 714.8,509.5 716.8,450.6 680.7,517.4 678.7,503.7 682.7,495.8 720.8,507.6 698.8,533.1 678.7,497.8 694.8,533.1 686.7,450.6 702.8,489.9 694.8,507.6 684.7,539 692.7,405.4 684.7,503.7 684.7,495.8 676.7,517.4 698.8,515.4 686.7,519.4 692.7,535.1 732.9,403.5 680.7,519.4 678.7,533.1 686.7,478.1 682.7,480.1 684.7,509.5 688.7,517.4 714.8,466.3 730.9,403.5 676.7,493.8 694.8,533.1 690.7,374 700.8,432.9 682.7,523.3 702.8,527.2 692.7,458.5 688.7,527.2 700.8,533.1 678.7,513.5 700.8,489.9 686.7,539 676.7,529.2 686.7,482 686.7,544.9 686.7,529.2 686.7,491.9 724.8,529.2 714.8,470.3 686.7,527.2 694.8,511.5 678.7,531.2 706.8,501.7 684.7,541 696.8,505.6 694.8,454.5 704.8,368.1 716.8,527.2 708.8,541 680.7,511.5 704.8,507.6 688.7,539 688.7,507.6 682.7,542.9 682.7,486 785,505.6 678.7,541 680.7,541 690.7,533.1 700.8,501.7 680.7,478.1 690.7,499.7 692.7,503.7 696.8,431 698.8,499.7 684.7,482 686.7,525.3 686.7,511.5 680.7,521.3 676.7,511.5 698.8,541 676.7,511.5 702.8,513.5 712.8,401.5 686.7,409.4 688.7,533.1 700.8,484 702.8,507.6 698.8,523.3 686.7,487.9 694.8,499.7 690.7,466.3 698.8,436.9 702.8,415.2 704.8,537.1 686.7,460.4 686.7,499.7 763,509.5 676.7,470.3 692.7,482 690.7,442.8 704.8,511.5 680.7,484 696.8,442.8 700.8,511.5 748.9,525.3 690.7,409.4 722.8,491.9 702.8,544.9 692.7,531.2 684.7,499.7 696.8,515.4 680.7,517.4 706.8,499.7 696.8,415.2 708.8,470.3 678.7,535.1 706.8,521.3 690.7,470.3 688.7,521.3 678.7,544.9 704.8,509.5 686.7,513.5 688.7,487.9 688.7,531.2 730.9,379.9 720.8,503.7 710.8,533.1 704.8,489.9 694.8,497.8 708.8,495.8 714.8,491.9 692.7,525.3 726.8,474.2 682.7,491.9 698.8,521.3 686.7,389.7 736.9,515.4 730.9,537.1 682.7,533.1 698.8,537.1 690.7,476.1 676.7,466.3 700.8,544.9 696.8,523.3 684.7,535.1 690.7,529.2 678.7,495.8 748.9,535.1 688.7,421.1 692.7,525.3 692.7,452.6 690.7,523.3 702.8,503.7 690.7,491.9 698.8,544.9 710.8,537.1 708.8,507.6 706.8,513.5 686.7,489.9 682.7,519.4 696.8,531.2 692.7,482 684.7,497.8 688.7,519.4 706.8,541 702.8,521.3 690.7,537.1 694.8,527.2 682.7,509.5 694.8,507.6 684.7,499.7 696.8,505.6 712.8,523.3 686.7,509.5 686.7,434.9 694.8,470.3 710.8,541 716.8,537.1 688.7,495.8 678.7,535.1 734.9,478.1 680.7,537.1 682.7,542.9 730.9,527.2 686.7,468.3 696.8,464.4 682.7,507.6 696.8,507.6 682.7,544.9 678.7,499.7 678.7,486 724.8,491.9 690.7,499.7 694.8,464.4 704.8,419.2 732.9,537.1 785,507.6 708.8,482 678.7,527.2 787,527.2 726.8,533.1 706.8,523.3 684.7,544.9 678.7,474.2 710.8,519.4 696.8,544.9 773,495.8 684.7,507.6 680.7,442.8 698.8,509.5 686.7,470.3 698.8,521.3 676.7,527.2 694.8,542.9 714.8,489.9 702.8,517.4 690.7,491.9 706.8,476.1 706.8,515.4 688.7,486 698.8,533.1 688.7,519.4 690.7,527.2 680.7,527.2 744.9,513.5 708.8,458.5 706.8,503.7 682.7,480.1 678.7,542.9 676.7,539 682.7,539 704.8,462.4 692.7,542.9 690.7,507.6 696.8,539 688.7,472.2 678.7,541 682.7,531.2 690.7,531.2 702.8,519.4 682.7,489.9 684.7,505.6 692.7,476.1 815.1,448.6 732.9,535.1 684.7,523.3 704.8,484 744.9,493.8 728.9,533.1 686.7,539 684.7,535.1 698.8,535.1 700.8,515.4 680.7,486 702.8,503.7 682.7,503.7 696.8,519.4 700.8,497.8 696.8,531.2 688.7,486 698.8,525.3 680.7,517.4 680.7,515.4 694.8,499.7 686.7,519.4 684.7,513.5 694.8,505.6 773,499.7 676.7,517.4 698.8,462.4 682.7,539 702.8,377.9 700.8,513.5 678.7,537.1 678.7,499.7 706.8,529.2 684.7,531.2 682.7,523.3 700.8,493.8 698.8,511.5 688.7,505.6 702.8,537.1 698.8,541 680.7,544.9 682.7,478.1 708.8,533.1 708.8,462.4 680.7,507.6 692.7,529.2 678.7,493.8 678.7,358.3 684.7,468.3 676.7,535.1 682.7,507.6 704.8,544.9 688.7,531.2 698.8,493.8 684.7,507.6 686.7,466.3 765,476.1 708.8,474.2 692.7,486 688.7,452.6 688.7,535.1 756.9,495.8 698.8,407.4 696.8,541 680.7,542.9 710.8,377.9 680.7,537.1 690.7,446.7 698.8,501.7 684.7,519.4 710.8,523.3 708.8,542.9 686.7,517.4 688.7,531.2 682.7,501.7 706.8,482 700.8,539 686.7,427 686.7,539 682.7,521.3 676.7,523.3 676.7,513.5 722.8,523.3 694.8,531.2 706.8,533.1 680.7,519.4 698.8,537.1 760.9,497.8 706.8,542.9 678.7,489.9 702.8,501.7 678.7,519.4 702.8,501.7 692.7,521.3 684.7,521.3 692.7,544.9 678.7,525.3 688.7,501.7 680.7,529.2 692.7,501.7 728.9,523.3 716.8,509.5 684.7,501.7 680.7,484 700.8,525.3 714.8,515.4 682.7,468.3 706.8,448.6 684.7,493.8 688.7,482 690.7,484 714.8,423.1 698.8,542.9 692.7,541 682.7,533.1 682.7,523.3 688.7,413.3 686.7,542.9 682.7,517.4 714.8,519.4 682.7,539 676.7,495.8 692.7,537.1 692.7,542.9 678.7,368.1 696.8,482 706.8,486 732.9,542.9 690.7,478.1 680.7,527.2 698.8,474.2 706.8,517.4 678.7,446.7 690.7,458.5 704.8,539 704.8,493.8 692.7,495.8 726.8,511.5 682.7,535.1 702.8,491.9 680.7,542.9 698.8,429 676.7,533.1 771,525.3 680.7,537.1 686.7,529.2 678.7,539 692.7,501.7 706.8,472.2 730.9,541 738.9,513.5 710.8,452.6 680.7,531.2 771,515.4 686.7,535.1 708.8,533.1 692.7,358.3 702.8,501.7 690.7,417.2 698.8,509.5 692.7,515.4 694.8,544.9 690.7,535.1 706.8,517.4 702.8,539 692.7,484 706.8,509.5 686.7,521.3 696.8,503.7 694.8,464.4 750.9,519.4 702.8,539 710.8,493.8 688.7,535.1 704.8,511.5 692.7,531.2 680.7,487.9 700.8,517.4 724.8,507.6 744.9,507.6 696.8,489.9 692.7,531.2 704.8,537.1 676.7,513.5 690.7,499.7 684.7,497.8 736.9,527.2 694.8,541 698.8,535.1 692.7,464.4 680.7,541 694.8,495.8 738.9,533.1 736.9,541 692.7,531.2 708.8,539 696.8,476.1 678.7,527.2 702.8,537.1 686.7,523.3 684.7,470.3 686.7,429 710.8,513.5 712.8,533.1 698.8,499.7 752.9,486 732.9,484 684.7,539 692.7,503.7 706.8,474.2 708.8,515.4 746.9,480.1 678.7,513.5 696.8,505.6 716.8,525.3 698.8,374 704.8,480.1 682.7,541 692.7,503.7 694.8,497.8 686.7,474.2 700.8,539 732.9,493.8 710.8,515.4 688.7,539 696.8,497.8 722.8,425.1 678.7,497.8 712.8,497.8 692.7,525.3 700.8,431 692.7,497.8 694.8,452.6 706.8,519.4 678.7,509.5 692.7,458.5 678.7,537.1 704.8,450.6 690.7,541 680.7,541 684.7,482 680.7,489.9 688.7,505.6 688.7,509.5 682.7,517.4 686.7,482 682.7,482 686.7,529.2 700.8,493.8 680.7,535.1 682.7,535.1 704.8,521.3 722.8,431 692.7,515.4 692.7,539 686.7,544.9 702.8,537.1 684.7,476.1 710.8,464.4 688.7,513.5 682.7,501.7 684.7,517.4 680.7,521.3 708.8,533.1 686.7,535.1 682.7,542.9 694.8,432.9 736.9,525.3 692.7,542.9 686.7,542.9 686.7,519.4 696.8,499.7 678.7,491.9 696.8,509.5 676.7,539 698.8,542.9 730.9,487.9 688.7,497.8 680.7,544.9 690.7,486 680.7,495.8 708.8,525.3 676.7,541 718.8,487.9 712.8,535.1 684.7,527.2 706.8,517.4 680.7,541 752.9,533.1 698.8,462.4 686.7,542.9 684.7,491.9 700.8,491.9 771,491.9 706.8,509.5 680.7,499.7 692.7,391.7 708.8,503.7 706.8,544.9 740.9,493.8 682.7,489.9 688.7,541 688.7,535.1 680.7,541 690.7,542.9 696.8,542.9 710.8,539 704.8,525.3 702.8,478.1 684.7,529.2 684.7,505.6 678.7,521.3 678.7,474.2 690.7,478.1 684.7,376 692.7,503.7 680.7,539 748.9,529.2 680.7,442.8 680.7,472.2 686.7,535.1 722.8,476.1 688.7,531.2 684.7,505.6 724.8,531.2 690.7,491.9 728.9,515.4 710.8,491.9 694.8,511.5 710.8,474.2 718.8,517.4 767,487.9 700.8,493.8 688.7,523.3 704.8,535.1 680.7,517.4 690.7,535.1 700.8,521.3 726.8,484 777,513.5 682.7,515.4 688.7,535.1 688.7,501.7 740.9,537.1 676.7,535.1 680.7,535.1 702.8,489.9 706.8,539 692.7,486 678.7,533.1 718.8,529.2 678.7,541 684.7,529.2 686.7,376 678.7,503.7 702.8,493.8 682.7,539 724.8,519.4 700.8,440.8 720.8,539 676.7,523.3 696.8,544.9 680.7,484 726.8,505.6 734.9,539 682.7,497.8 678.7,497.8 690.7,517.4 702.8,523.3 724.8,501.7 698.8,523.3 690.7,515.4 690.7,535.1 767,476.1 676.7,537.1 700.8,507.6 698.8,521.3 684.7,503.7 682.7,539 700.8,513.5 682.7,489.9 682.7,405.4 680.7,503.7 710.8,497.8 698.8,499.7 720.8,415.2 710.8,444.7 682.7,535.1 694.8,513.5 690.7,501.7 680.7,521.3 678.7,537.1 704.8,511.5 714.8,487.9 682.7,436.9 678.7,484 716.8,434.9 680.7,529.2 692.7,497.8 688.7,515.4 680.7,499.7 684.7,513.5 686.7,505.6 692.7,478.1 684.7,484 696.8,499.7 704.8,529.2 680.7,529.2 680.7,484 692.7,507.6 676.7,486 678.7,474.2 694.8,531.2 678.7,499.7 684.7,509.5 760.9,531.2 702.8,539 698.8,525.3 682.7,499.7 682.7,474.2 700.8,531.2 682.7,436.9 704.8,487.9 702.8,537.1 750.9,531.2 696.8,468.3 712.8,541 688.7,542.9 686.7,427 686.7,525.3 680.7,539 692.7,531.2 694.8,513.5 686.7,539 736.9,539 708.8,429 700.8,511.5 688.7,533.1 694.8,521.3 716.8,413.3 676.7,525.3 688.7,509.5 680.7,487.9 684.7,539 696.8,515.4 708.8,513.5 742.9,541 692.7,529.2 716.8,482 690.7,458.5 708.8,480.1 698.8,535.1 706.8,466.3 710.8,523.3 708.8,446.7 684.7,541 680.7,503.7 688.7,539 682.7,513.5 676.7,542.9 678.7,521.3 694.8,539 680.7,486 694.8,499.7 698.8,486 682.7,507.6 702.8,513.5 694.8,493.8 678.7,462.4 692.7,478.1 704.8,511.5 680.7,529.2 700.8,539 676.7,531.2 728.9,523.3 698.8,489.9 700.8,482 678.7,389.7 698.8,517.4 678.7,539 692.7,515.4 688.7,533.1 694.8,527.2 718.8,484 680.7,480.1 692.7,525.3 684.7,505.6 704.8,505.6 690.7,519.4 714.8,480.1 716.8,501.7 718.8,497.8 716.8,493.8 710.8,501.7 728.9,501.7 710.8,507.6 726.8,501.7 692.7,533.1 730.9,487.9 724.8,511.5 718.8,480.1 724.8,497.8 704.8,507.6 722.8,484 732.9,497.8 748.9,487.9 716.8,497.8 752.9,474.2 765,480.1 702.8,503.7 720.8,491.9 710.8,505.6 724.8,480.1 708.8,499.7 746.9,476.1 750.9,482 700.8,511.5 765,470.3 710.8,501.7 704.8,509.5 690.7,531.2 694.8,533.1 728.9,499.7 740.9,486 720.8,493.8 724.8,476.1 744.9,487.9 720.8,480.1 722.8,478.1 682.7,542.9 740.9,482 714.8,507.6 706.8,515.4 692.7,523.3 742.9,478.1 714.8,491.9 694.8,527.2 752.9,482 704.8,521.3 708.8,505.6 746.9,476.1 730.9,501.7 708.8,493.8 714.8,503.7 767,476.1 704.8,495.8 736.9,478.1 740.9,487.9 716.8,478.1 730.9,491.9 692.7,529.2 710.8,509.5 690.7,527.2 712.8,480.1 706.8,507.6 738.9,484 720.8,491.9 734.9,491.9 752.9,476.1 690.7,529.2 734.9,480.1 710.8,505.6 682.7,541 700.8,525.3 684.7,533.1 700.8,515.4 706.8,511.5 696.8,507.6 718.8,505.6 718.8,495.8 696.8,525.3 718.8,484 714.8,497.8 696.8,511.5 692.7,517.4 700.8,519.4 726.8,482 771,476.1 700.8,511.5 730.9,493.8 736.9,491.9 734.9,486 712.8,480.1 714.8,493.8 746.9,480.1 724.8,482 712.8,497.8 700.8,511.5 738.9,484 787,489.9 692.7,533.1 728.9,505.6 720.8,507.6 738.9,484 712.8,476.1 720.8,425.1 722.8,440.8 813.1,468.3 748.9,489.9 775,466.3 728.9,487.9 686.7,511.5 716.8,507.6 724.8,480.1 714.8,470.3 760.9,519.4 746.9,487.9 702.8,478.1 758.9,480.1 752.9,497.8 734.9,507.6 771,489.9 752.9,493.8 714.8,519.4 704.8,525.3 696.8,523.3 763,484 706.8,464.4 718.8,409.4 740.9,515.4 811.1,478.1 722.8,480.1 779,468.3 726.8,489.9 690.7,511.5 722.8,486 718.8,454.5 819.1,466.3 760.9,505.6 756.9,486 760.9,495.8 734.9,482 732.9,515.4 797.1,464.4 716.8,478.1 736.9,499.7 795.1,478.1 718.8,527.2 728.9,497.8 807.1,452.6 746.9,519.4 698.8,491.9 708.8,527.2 736.9,509.5 734.9,515.4 734.9,480.1 765,507.6 730.9,501.7 702.8,521.3 742.9,480.1 704.8,472.2 702.8,468.3 726.8,535.1 724.8,415.2 710.8,509.5 775,480.1 758.9,511.5 746.9,487.9 708.8,513.5 720.8,472.2 712.8,460.4 738.9,503.7 730.9,377.9 756.9,344.5 758.9,499.7 696.8,537.1 752.9,480.1 779,505.6 811.1,468.3 752.9,474.2 744.9,486 738.9,482 748.9,476.1 722.8,478.1 732.9,493.8 740.9,517.4 750.9,505.6 754.9,489.9 710.8,436.9 736.9,381.8 686.7,521.3 777,509.5 760.9,495.8 700.8,531.2 758.9,487.9 710.8,515.4 710.8,497.8 696.8,531.2 823.1,450.6 710.8,480.1 732.9,505.6 706.8,499.7 726.8,497.8 678.7,544.9 700.8,507.6 702.8,503.7 728.9,484 692.7,505.6 775,541 684.7,503.7 754.9,537.1 714.8,456.5 756.9,525.3 690.7,517.4 692.7,462.4 684.7,517.4 720.8,501.7 684.7,354.3 686.7,474.2 682.7,399.5 716.8,517.4 682.7,444.7 760.9,537.1 758.9,480.1 690.7,472.2 700.8,539 702.8,370.1 738.9,484 688.7,542.9 771,544.9 756.9,533.1 712.8,432.9 704.8,491.9 682.7,462.4 678.7,450.6 825.1,517.4 680.7,544.9 696.8,535.1 702.8,539 692.7,515.4 688.7,489.9 704.8,486 684.7,519.4 694.8,541 722.8,480.1 758.9,487.9 694.8,525.3 732.9,541 676.7,466.3 678.7,470.3 720.8,348.5 700.8,503.7 686.7,529.2 684.7,535.1 688.7,389.7 789,521.3 682.7,527.2 696.8,523.3 702.8,391.7 682.7,472.2 720.8,527.2 690.7,472.2 690.7,472.2 690.7,476.1 698.8,519.4 694.8,527.2 694.8,539 678.7,476.1 678.7,389.7 758.9,537.1 676.7,468.3 678.7,377.9 684.7,519.4 720.8,484 706.8,448.6 734.9,495.8 704.8,541 694.8,464.4 769,525.3 712.8,486 724.8,501.7 676.7,521.3 742.9,505.6 686.7,537.1 682.7,482 686.7,541 752.9,493.8 777,515.4 682.7,480.1 700.8,529.2 742.9,346.5 686.7,401.5 684.7,491.9 785,495.8 702.8,501.7 678.7,487.9 732.9,507.6 720.8,499.7 767,533.1 825.1,513.5 722.8,495.8 702.8,523.3 809.1,533.1 692.7,542.9 678.7,484 686.7,462.4 704.8,442.8 710.8,511.5 696.8,487.9 712.8,489.9 688.7,531.2 692.7,468.3 690.7,484 797.1,531.2 803.1,489.9 771,476.1 690.7,505.6 682.7,505.6 726.8,499.7 763,503.7 680.7,521.3 694.8,393.6 700.8,364.2 815.1,541 680.7,509.5 678.7,509.5 704.8,379.9 803.1,539 682.7,525.3 724.8,484 678.7,472.2 688.7,385.8 829.2,539 684.7,544.9 676.7,495.8 684.7,523.3 686.7,541 702.8,499.7 728.9,356.3 678.7,448.6 692.7,487.9 680.7,468.3 678.7,542.9 706.8,446.7 748.9,352.4 680.7,478.1 688.7,529.2 714.8,542.9 680.7,513.5 702.8,423.1 684.7,356.3 686.7,482 746.9,495.8 718.8,468.3 676.7,529.2 797.1,482 738.9,531.2 684.7,474.2 732.9,519.4 682.7,356.3 696.8,411.3 678.7,501.7 690.7,535.1 694.8,529.2 700.8,474.2 682.7,444.7 678.7,468.3 678.7,458.5 736.9,503.7 702.8,401.5 694.8,509.5 718.8,535.1 684.7,521.3 698.8,454.5 718.8,525.3 678.7,429 730.9,539 694.8,440.8 712.8,531.2 690.7,511.5 682.7,519.4 680.7,525.3 698.8,476.1 696.8,517.4 720.8,489.9 708.8,432.9 708.8,544.9 704.8,542.9 684.7,454.5 676.7,542.9 710.8,487.9 728.9,517.4 698.8,513.5 678.7,489.9 718.8,507.6 773,478.1 684.7,507.6 682.7,456.5 698.8,503.7 678.7,487.9 676.7,454.5 698.8,503.7 696.8,495.8 680.7,537.1 686.7,533.1 688.7,397.6 676.7,521.3 694.8,501.7 696.8,501.7 680.7,374 684.7,395.6 700.8,415.2 696.8,542.9 682.7,429 710.8,539 684.7,505.6 698.8,541 678.7,482 738.9,480.1 682.7,403.5 682.7,493.8 682.7,399.5 700.8,482 716.8,537.1 795.1,541 678.7,434.9 688.7,464.4 716.8,360.2 694.8,478.1 678.7,497.8 694.8,474.2 684.7,486 688.7,493.8 676.7,515.4 680.7,505.6 700.8,523.3 708.8,403.5 706.8,482 696.8,486 682.7,448.6 682.7,478.1 682.7,542.9 744.9,539 694.8,407.4 684.7,517.4 710.8,472.2 704.8,364.2 710.8,362.2 682.7,466.3 698.8,521.3 678.7,487.9 698.8,487.9 688.7,503.7 694.8,356.3" fill="none" stroke="none" marker-start="url(#mr)" marker-mid="url(#mr)" marker-end="url(#mr)"/>
<polyline clip-path="url(#c10)" points="750.9,442.8 795.1,438.8 756.9,403.5 728.9,446.7 773,427 736.9,464.4 730.9,474.2 750.9,474.2 736.9,425.1 722.8,462.4 746.9,429 760.9,425.1 748.9,413.3 797.1,431 744.9,466.3 722.8,472.2 783,401.5 726.8,460.4 777,397.6 756.9,434.9 730.9,456.5 738.9,438.8 726.8,466.3 750.9,454.5 849.2,352.4 789,395.6 754.9,452.6 742.9,472.2 787,415.2 763,413.3 809.1,372 748.9,462.4 783,456.5 771,427 740.9,458.5 750.9,413.3 754.9,423.1 734.9,474.2 740.9,427 805.1,364.2 807.1,385.8 805.1,395.6 781,405.4 779,413.3 752.9,460.4 821.1,352.4 809.1,368.1 809.1,370.1 799.1,391.7 756.9,431 839.2,340.6 736.9,468.3 775,376 823.1,352.4 726.8,472.2 746.9,470.3 821.1,358.3 807.1,379.9 742.9,464.4 730.9,462.4 752.9,397.6 775,421.1 831.2,350.4 787,419.2 773,393.6 748.9,452.6 809.1,397.6 785,370.1 746.9,450.6 827.1,366.1 775,411.3 756.9,432.9 769,431 789,381.8 783,393.6 748.9,466.3 787,413.3 831.2,358.3 724.8,460.4 791,436.9 779,372 827.1,352.4 855.2,348.5 746.9,450.6 754.9,468.3 744.9,429 756.9,440.8 813.1,391.7 744.9,470.3 819.1,376 740.9,470.3 736.9,474.2 746.9,470.3 809.1,383.8 736.9,446.7 807.1,397.6 797.1,401.5 783,395.6 750.9,468.3 750.9,452.6 754.9,470.3 799.1,368.1 748.9,462.4 815.1,379.9 748.9,399.5 756.9,444.7 825.1,362.2 793,434.9 777,421.1 763,460.4 811.1,411.3 789,460.4 758.9,407.4 781,407.4 817.1,397.6 754.9,462.4 744.9,468.3 734.9,464.4 791,405.4 787,446.7 767,401.5 785,411.3 805.1,377.9 763,436.9 803.1,407.4 805.1,381.8 736.9,462.4 752.9,466.3 795.1,366.1 754.9,460.4 801.1,411.3 750.9,462.4 767,448.6 789,366.1 819.1,358.3 817.1,350.4 813.1,356.3 797.1,395.6 781,417.2 769,466.3 769,423.1 777,409.4 801.1,423.1 863.3,340.6 827.1,354.3 831.2,344.5 775,464.4 748.9,456.5 738.9,472.2 734.9,472.2 781,415.2 815.1,358.3 821.1,362.2 809.1,360.2 769,464.4 754.9,462.4 773,436.9 829.2,350.4 736.9,462.4 779,381.8 785,383.8 787,376 730.9,470.3 758.9,434.9 771,450.6 801.1,374 730.9,470.3 732.9,468.3 758.9,399.5 787,381.8 767,442.8 803.1,370.1 758.9,393.6 789,391.7 783,423.1 779,403.5 758.9,403.5 811.1,362.2 815.1,377.9 829.2,366.1 811.1,387.7 801.1,387.7 760.9,448.6 801.1,368.1 756.9,456.5 799.1,376 744.9,438.8 811.1,379.9 789,399.5 827.1,366.1 738.9,468.3 738.9,470.3 795.1,419.2 807.1,405.4 746.9,472.2 769,425.1 791,405.4 793,372 805.1,395.6 821.1,370.1 791,421.1 773,458.5 807.1,364.2 775,411.3 752.9,409.4 740.9,462.4 758.9,466.3 785,440.8 787,389.7 740.9,470.3 754.9,442.8 801.1,383.8 783,427 817.1,364.2 781,377.9 756.9,466.3 750.9,419.2 801.1,370.1 811.1,372 791,387.7 760.9,411.3 752.9,440.8 773,442.8 758.9,411.3 765,454.5 813.1,368.1 809.1,360.2 805.1,405.4 746.9,448.6 756.9,432.9 736.9,446.7 750.9,466.3 746.9,427 831.2,379.9 763,417.2 837.2,397.6 779,446.7 734.9,438.8 777,364.2 783,423.1 831.2,372 829.2,423.1 833.2,336.7 789,391.7 744.9,419.2 742.9,464.4 817.1,405.4 734.9,456.5 734.9,429 837.2,354.3 829.2,362.2 734.9,450.6 734.9,464.4 724.8,464.4 775,385.8 767,372 754.9,466.3 797.1,407.4 823.1,346.5 738.9,466.3 793,350.4 795.1,417.2 773,448.6 823.1,372 815.1,348.5 767,440.8 799.1,444.7 841.2,354.3 793,421.1 819.1,397.6 765,403.5 769,464.4 795.1,383.8 756.9,421.1 835.2,342.6 726.8,462.4 781,432.9 817.1,350.4 777,464.4 781,399.5 827.1,360.2 827.1,374 740.9,454.5 728.9,446.7 742.9,468.3 726.8,438.8 799.1,448.6 799.1,434.9 742.9,442.8 825.1,344.5 750.9,409.4 758.9,429 746.9,468.3 819.1,395.6 813.1,417.2 752.9,436.9 754.9,419.2 742.9,407.4 728.9,464.4 871.3,379.9 760.9,352.4 777,450.6 736.9,458.5 750.9,472.2 767,444.7 734.9,438.8 829.2,385.8 754.9,458.5 783,409.4 809.1,387.7 813.1,370.1 773,462.4 793,387.7 754.9,462.4 785,454.5 730.9,472.2 793,446.7 807.1,436.9 728.9,476.1 781,354.3 771,383.8 742.9,468.3 769,415.2 821.1,348.5 785,360.2 765,436.9 803.1,393.6 732.9,444.7 754.9,411.3 779,381.8 744.9,407.4 769,381.8 748.9,393.6 795.1,385.8 738.9,454.5 732.9,448.6 730.9,454.5 750.9,387.7 754.9,444.7 746.9,436.9 779,432.9 740.9,442.8 791,350.4 801.1,376 811.1,387.7 752.9,429 736.9,442.8 744.9,383.8 819.1,356.3 752.9,472.2 777,466.3 740.9,468.3 783,374 813.1,389.7 748.9,472.2 744.9,432.9 785,383.8 805.1,425.1 793,366.1 744.9,440.8 799.1,429 756.9,360.2 805.1,338.6 807.1,399.5 765,366.1 825.1,401.5 787,438.8 803.1,419.2 775,466.3 754.9,389.7 803.1,385.8 789,419.2 781,452.6 758.9,425.1 783,431 797.1,354.3 793,429 799.1,427 748.9,452.6 791,444.7 803.1,431 758.9,417.2 763,440.8 791,460.4 823.1,427 760.9,438.8 756.9,450.6 1060.9,164" fill="none" stroke="none" marker-start="url(#mk)" marker-mid="url(#mk)" marker-end="url(#mk)"/>
<path d="M657.5 144.5H1080.5V564.5H657.5Z" fill="none" stroke="#000" stroke-width="1.1" stroke-linejoin="miter"/>
<path d="M700.5 564.5v5M757.5 564.5v5M814.5 564.5v5M870.5 564.5v5M927.5 564.5v5M984.5 564.5v5M1040.5 564.5v5" stroke="#000" stroke-width="1.1" fill="none"/>
<path d="M657.5 522.5h-5M657.5 467.5h-5M657.5 411.5h-5M657.5 356.5h-5M657.5 301.5h-5M657.5 245.5h-5M657.5 190.5h-5" stroke="#000" stroke-width="1.1" fill="none"/>
<polyline clip-path="url(#c01)" points="163.9,1059.4 409.7,1059.4 341.2,1042 345.3,1059.4 327.7,1059.4 337.6,1045.8 161.1,1059.4 314.3,1059.4 437.1,1050.1 285.7,1059.4 399.6,1013 178.8,1059.4 420.3,1037.5 246.8,1059.4 376.1,1027 159.3,1059.4 430.6,1025.8 497.4,1052.2 431.8,1046.7 210.8,1059.4 383.3,1031.8 435.8,1050.7 384.9,1042.1 365.4,1021.1 473.5,974.6 176.6,1059.4 167.1,1059.4 244.6,1059.4 358.3,1059.4 459.2,1051.1 163.5,1059.4 191.7,1051.4 336.8,1028.6 359.4,1059.4 165.5,1059.4 310.2,1046.6 190.1,1051.4 206.8,1059.4 224.3,1059.4 304.8,1049.8 387.1,1013.6 296.5,1059.4 201.7,1059.4 361.8,1059.4 524.8,973.7 380.7,1040.5 346.3,1028.2 348.5,1030.7 292.7,1059.4 183,1052.2 308,1059.4 252.7,1059.4 190.3,1059.4 386.9,1044.9 219.4,1059.4 349.3,1034.8 269.6,1045.9 311.6,1039.2 194.5,1059.4 259.9,1049.9 315.9,1037.2 459.8,1050.6 247.6,1059.4 273.6,1059.4 393.8,1044.2 186.6,1051.8 256.5,1059.4 274.8,1059.4 263.3,1047.3 442.9,1050.5 364.6,1020.2 199.1,1059.4 294.7,1045.4 262.5,1059.4 195.3,1059.4 282.9,1048.4 387.5,1012.1 256.7,1059.4 358.5,1025.3 232.5,1048.3 356.1,1023.1 400.8,1049.3 156.8,1059.4 312.2,1049.8 357.5,1025.1 261.5,1059.4 370.2,1043.4 412.3,1059.4 399.2,1010.9 182.6,1059.4 161.5,1059.4 344.5,1033.1 496.2,1018.6 361.6,1021.4 273,1059.4 440.1,1050.1 281.2,1059.4 307.2,1059.4 153.6,1059.4 337.2,1059.4 304.2,1038.5 253.1,1059.4 170.7,1059.4 207.8,1059.4 283.7,1059.4 207.6,1051.7 195.9,1051.9 298.6,1038.9 203.7,1059.4 271.2,1059.4 344.9,1035.3 230.5,1050.8 192.5,1051.2 484.2,966.2 260.9,1059.4 180.6,1059.4 279.2,1042.5 153.4,1059.4 294.1,1059.4 376.7,1059.4 171.9,1059.4 181.8,1059.4 155.8,1059.4 160.7,1059.4 196.9,1059.4 315.7,1059.4 318.1,1034.9 381.3,1021.3 389.7,1043 152.2,1059.4 205.8,1059.4 244.8,1047.6 176.4,1059.4 358.9,1041.3 368.8,1059.4 260.5,1059.4 167.7,1059.4 229.9,1059.4 351.9,1059.4 329.4,1059.4 266.4,1059.4 296.3,1059.4 151.2,1059.4 306.4,1059.4 189.7,1059.4 224.1,1059.4 412.7,1047.6 475.7,1050 346.1,1059.4 162.1,1059.4 439.9,1046.2 240.4,1050.1 453,1049.6 264.1,1059.4 231.7,1050.8 237.6,1059.4 369.8,1021.8 452.4,1059.4 393.2,1059.4 394.6,1059.4 161.7,1059.4 179.8,1059.4 511.3,1051.8 249.8,1047.7 229.7,1059.4 318.3,1059.4 169.9,1059.4 464,1051.3 345.9,1043.5 319.3,1059.4 433,1059.4 162.7,1059.4 288.5,1059.4 458.6,1059.4 267.6,1059.4 352.3,1025.7 215.8,1059.4 258.9,1059.4 500.1,1040.4 306.2,1037.6 193.9,1059.4 383.5,1022.7 283.3,1059.4 287.7,1059.4 201.9,1059.4 205,1059.4 262.9,1059.4 275.4,1059.4 195.5,1059.4 460.8,1048.6 360.6,1021.5 431.6,996.8 460.6,1046.7 290.5,1040.8 381.9,1039.6 312.4,1059.4 504.3,962.4 210,1059.4 156.6,1059.4 357.1,1059.4 230.1,1059.4 246,1059.4 216.6,1059.4 166.5,1059.4 386.1,1044.4 372.2,1044.9 176.8,1059.4 176.2,1059.4 298.4,1039.6 318.5,1036.2 198.7,1059.4 451.1,990.3 446.1,1049.8 285.9,1047.4 195.1,1059.4 168.7,1059.4 389.3,1013.1 278.4,1059.4 438.3,1000.8 164.1,1059.4 183.2,1059.4 159.5,1059.4 352.9,1041.5 279.6,1043.1 217.4,1049.4 286.9,1059.4 200.1,1059.4 233.7,1049.6 375.3,1044.5 431.4,1049.7 208.6,1051.6 370.8,1019.7 420.1,1028.8 161.9,1059.4 342.6,1029 409.3,1043.2 424.2,1044.8 225.5,1059.4 257.9,1059.4 402.2,1007.3 302.8,1046.6 198.9,1059.4 439.3,1050.9 169.1,1059.4 400.2,1007.8 264.5,1059.4 187,1059.4 278.2,1049.9 311.2,1059.4 362.8,1059.4 203.3,1059.4 292.9,1059.4 198.5,1059.4 300.6,1045.7 369.6,1045.7 383.9,1059.4 286.7,1047.4 226.1,1049 327.3,1059.4 473.9,1001.7 263.7,1059.4 284.9,1048.1 494.6,1046 168.9,1059.4 327.5,1059.4 200.5,1059.4 240.6,1059.4 351.1,1024 174.8,1059.4 187.4,1059.4 339.8,1032 272.4,1043.7 232.9,1059.4 197.7,1059.4 469.9,1049.8 440.9,1046.4 396.2,1032.4 303.4,1059.4 459.4,1050 234.5,1051.4 451.7,985.8 223.7,1059.4 257.5,1046.7 345.7,1035.2 244,1059.4 352.5,1023.3 164.5,1059.4 278,1059.4 371.4,1018 337,1059.4 257.3,1059.4 270.4,1059.4 326.7,1059.4 332.6,1035.9 150.2,1059.4 233.9,1059.4 302.2,1059.4 314.9,1059.4 153.8,1059.4 304.4,1059.4 172.9,1059.4 239.4,1059.4 397.6,1017.9 193.7,1059.4 348.9,1059.4 227.3,1059.4 330.2,1059.4 171.5,1059.4 201.1,1059.4 156,1059.4 284.7,1059.4 323.7,1035.5 190.5,1059.4 314.5,1036 280.4,1049.4 294.5,1040.1 376.9,1029.8 229.1,1051 268.4,1059.4 406.7,1035 169.3,1059.4 456.6,1038.3 353.7,1059.4 420.5,1000.4 342.2,1059.4 209.2,1059.4 238.2,1059.4 154.4,1059.4 286.1,1047.7 320.3,1046.1 341.4,1043.6 254.5,1049 202.9,1059.4 212.2,1059.4 403.6,1016.7 220.9,1059.4 151,1059.4 227.9,1059.4 185.6,1059.4 338.4,1050.6 481.9,1051.9 392.2,1015.9 274.6,1059.4 228.7,1059.4 439.7,1059.4 190.7,1059.4 447.9,1051 279,1050.9 387.9,1043.6 307.8,1043.9 397,1045.9 416.5,1002.2 223.3,1059.4 209.4,1059.4 262.1,1059.4 218.2,1059.4 288.7,1059.4 282.5,1059.4 236,1059.4 366.8,1059.4 185.2,1059.4 286.5,1050.6 277,1059.4 368.4,1047.2 401.8,1028.9 317.7,1059.4 443.9,1047.8 253.9,1059.4 230.3,1059.4 307,1038.1 210.2,1051.8 407.7,1059.4 261.1,1050.7 427.8,1012.6 336.4,1059.4 158.1,1059.4 275,1048.8 428.4,1046.5 249,1059.4 276.6,1047 456.2,1033.3 325.1,1044.2 189.5,1059.4 388.3,1011.9 373.2,1059.4 311,1043.3 218,1059.4 227.1,1059.4 283.5,1059.4 383.7,1023 182.2,1052.3 265.5,1059.4 316.9,1059.4 270.2,1044 234.9,1059.4 323.3,1034.1 296.9,1059.4 255.5,1059.4 358.1,1043.4 368.2,1047.9 445.1,1048.4 372,1059.4 191.3,1059.4 248.6,1059.4 495.2,1050.8 208.2,1059.4 224.9,1050.6 364.8,1030.9 320.7,1039.7 411.9,1029.2 171.1,1059.4 545.1,1047.8 267,1059.4 245,1048.6 357.7,1048.4 239.8,1059.4 213.4,1059.4 354.1,1044.3 217.6,1059.4 295.7,1049.7 158.9,1059.4 254.7,1059.4 391.2,1047.6 268.2,1059.4 219.9,1051.4 464.4,1023.9 250,1049.6 335.8,1041.5 414.1,1042.4 325.3,1047.6 187.2,1059.4 186,1059.4 488.8,1051.3 303.2,1038.7 297.6,1059.4 167.9,1059.4 407.9,1041.8 408.3,1006.8 184.2,1059.4 168.3,1059.4 215.6,1059.4 419.1,1042.1 328.8,1059.4 176,1059.4 307.4,1059.4 250.4,1050 354.9,1023.2 305.4,1039 237,1059.4 301.8,1050.1 224.7,1059.4 235.6,1059.4 159.7,1059.4 339.6,1042 241.6,1059.4 290.9,1059.4 441.5,1002.4 191.5,1059.4 160.3,1059.4 248.4,1048.2 212,1059.4 237.8,1059.4 263.5,1059.4 404.6,1005.1 434.6,1008 155.2,1059.4 308.6,1059.4 281.4,1051.5 347.9,1045.5 467.4,974.2 214.4,1059.4 357.3,1059.4 290.1,1048 262.7,1059.4 341.8,1059.4 165.3,1059.4 350.5,1024.4 246.2,1059.4 152,1059.4 242.4,1048.2 240,1059.4 246.4,1059.4 254.1,1046.2 423.6,1049.5 404,1005.8 239.6,1059.4 303.6,1059.4 177,1059.4 378.5,1028.5 233.1,1059.4 324.3,1036.4 313.5,1046.5 374.4,1049.3 411.1,1049.1 388.7,1059.4 198.3,1059.4 371.8,1037.9 256.3,1059.4 260.1,1059.4 202.3,1059.4 211.2,1059.4 491.8,964.2 516.6,1049.9 164.7,1059.4 194.1,1059.4 271.8,1059.4 343.4,1031.2 188.2,1059.4 276.4,1042.5 298.8,1039.5 321.9,1048.1 331.4,1032.3 237.2,1048.3 244.2,1059.4 247.8,1059.4 199.3,1059.4 156.4,1059.4 334.8,1059.4 151.6,1059.4 354.7,1041.6 401.6,1038.2 242,1051.3 471.7,973.3 259.1,1059.4 340.6,1027.8 363.8,1037.7 334,1059.4 249.4,1046.9 309.8,1037 286.3,1047.3 329.2,1047 527.4,966.5 354.3,1046.8 367.2,1059.4 241,1049.9 252.3,1059.4 494.4,1049.3 157.9,1059.4 293.9,1042.8 280.6,1049.3 369.2,1041.1 463.2,991.8 192.3,1059.4 322.7,1046.9 347.1,1039.9 473.1,1050.4 277.8,1050.6 420.7,1019.6 362.2,1059.4 294.9,1059.4 225.9,1059.4 324.9,1059.4 200.7,1059.4 377.5,1027.3 317.1,1049.2 386.7,1012.7 161.3,1059.4 379.3,1046.3 281.9,1047.1 265.1,1059.4 174,1059.4 369.4,1039 250.6,1059.4 262.3,1045.8 267.8,1059.4 434.2,1024.1 416.3,1038.2 395.4,1059.4 367.6,1021.1 305.2,1038 391,1022.7 406.1,1018.1 295.3,1059.4 429.2,1002.1 214.8,1059.4 337.8,1059.4 254.9,1051.7 450.7,1048.2 436.9,1051.2 206,1059.4 333.2,1059.4 281.6,1046 152.6,1059.4 348.1,1059.4 320.1,1059.4 221.3,1059.4 279.4,1059.4 175.8,1059.4 472.9,1051.5 269.8,1050.4 299.6,1059.4 302,1047.5 280.2,1059.4 360.4,1031.5 282.1,1042.9 333.4,1059.4 419.9,1001.8 398.2,1059.4 383.1,1037.8 374.6,1042.1 241.4,1059.4 201.5,1059.4 325.9,1059.4 287.3,1044 233.3,1059.4 268,1059.4 377.9,1059.4 360,1045.6 272,1059.4 308.4,1059.4 213,1059.4 307.6,1038.8 231.9,1059.4 324.1,1036.5 400.6,1047.7 251.9,1059.4 252.1,1050.4 308.8,1043.9 392.4,1059.4 411.7,1059.4 258.7,1059.4 160.5,1059.4 443.7,1003.3 184.6,1059.4 211.6,1059.4 436.6,1049.5 243.4,1049.2 320.9,1044.1 212.6,1059.4 322.9,1037.7 219,1059.4 171.7,1059.4 177.6,1059.4 513.7,949.5 424.6,1019.8 275.8,1042.7 311.8,1045 372.6,1043.5 442.3,1051.1 517,1050.2 384.5,1014.1 174.6,1059.4 518.2,1051.9 428.2,1050.2 378.7,1046.9 224.5,1059.4 179.6,1059.4 396.8,1046.5 323.5,1059.4 504.1,1047.2 228.3,1059.4 186.2,1052 328.6,1038.4 245.8,1049 338.2,1059.4 157.2,1059.4 313.1,1059.4 407.5,1016.3 363.2,1043.8 272.6,1044 375.5,1016.2 376.3,1043.4 268.6,1045.3 335,1059.4 258.3,1059.4 280.8,1059.4 196.1,1059.4 465.4,1048.6 385.9,1017.2 381.7,1032.6 215.4,1059.4 167.5,1059.4 158.3,1059.4 215,1059.4 365,1026.9 293.7,1059.4 277.2,1059.4 318.9,1059.4 267.4,1047.8 172.5,1059.4 203.1,1059.4 279.8,1059.4 355.9,1044.8 208.8,1059.4 230.7,1059.4 289.7,1045.1 541.7,1007 440.7,1050.9 231.5,1059.4 365.8,1019.9 464.2,1036.8 431.2,1050.3 248,1059.4 222.5,1059.4 331.6,1059.4 349.9,1042.7 189.3,1059.4 353.5,1031.6 204.8,1059.4 326.9,1059.4 341.6,1029.3 319.7,1059.4 257.7,1046.6 334.6,1059.4 191.9,1059.4 199.7,1059.4 306.6,1037.4 251.1,1059.4 430,997.1 229.3,1059.4 311.4,1038.6 505.3,1048.4 507.7,950.8 153,1059.4 338.6,1040.5 211.4,1059.4 356.7,1049.4 350.7,1041.4 164.9,1059.4 162.5,1059.4 377.1,1059.4 227.5,1059.4 202.7,1059.4 350.3,1026 330.6,1039.4 259.3,1059.4 363.4,1059.4 335.2,1059.4 181,1059.4 200.9,1059.4 390.6,1059.4 385.1,1015.2 197.3,1059.4 293.3,1059.4 174.2,1059.4 160.9,1059.4 231.1,1049.7 154.6,1059.4 211,1059.4 366.6,1059.4 270.6,1059.4 333.8,1029.6 234.1,1059.4 248.8,1049.2 496.8,1014.6 384.1,1013.5 289.3,1042.8 258.1,1049.5 260.7,1059.4 485.6,1044.4 330.8,1048.9 317.5,1059.4 181.2,1059.4 396.6,1046.8 192.7,1059.4 273.2,1049.3 334.2,1032.9 231.3,1059.4 399,1047.9 386.5,1059.4 241.8,1059.4 268.8,1059.4 220.1,1059.4 378.9,1015.4 351.7,1059.4 251.5,1050.7 252.9,1059.4 205.4,1059.4 160.1,1059.4 484.6,968.8 154.2,1059.4 422.6,1048.8 313.3,1059.4 379.7,1059.4 194.7,1059.4 330.4,1059.4 491.4,1046.4 381.1,1059.4 163.7,1059.4 361.4,1029.9 175,1059.4 358.7,1030.2 295.9,1059.4 223.1,1059.4 300.4,1059.4 172.1,1059.4 266.1,1059.4 195.7,1059.4 287.1,1040.9 432,1049.1 411.5,1042.5 221.9,1059.4 184,1059.4 345.1,1059.4 407.1,1045.8 220.3,1050.2 375.7,1027.9 230.9,1059.4 270,1046.1 278.8,1044.7 405.6,1021.2 337.4,1059.4 291.7,1059.4 206.2,1059.4 203.9,1059.4 267.2,1050.7 249.2,1059.4 205.6,1059.4 404.8,1046.8 206.6,1059.4 156.2,1059.4 299.8,1059.4 292.3,1059.4 175.4,1059.4 319.5,1036.6 380.3,1017.4 441.1,1059.4 283.1,1045.5 193.3,1059.4 329.6,1036.1 380.5,1045.1 165.9,1059.4 276.8,1048.7 370,1059.4 373.6,1022.4 298.2,1039.3 428,1045.5 204.6,1059.4 356.3,1023.4 188,1059.4 338.8,1047.1 152.8,1059.4 501.7,1051.1 198.1,1059.4 250.2,1059.4 173.8,1059.4 297.8,1039.3 378.3,1015.1 435.4,1059.4 454.6,1048 391.6,1015.5 188.6,1059.4 502.1,1050.3 244.4,1059.4 390.4,1059.4 298,1051.9 360.8,1030.3 274.4,1050.4 333.6,1038.4 287.5,1059.4 304,1059.4 283.9,1059.4 378.1,1044.6 355.5,1059.4 296.7,1041.7 380.9,1040 254.3,1059.4 319.9,1036.5 305.8,1045.9 476.7,1050 361.2,1059.4 391.4,1020.6 269.2,1059.4 371,1041.2 301.4,1059.4 193.1,1059.4 347.5,1043 425,1042.9 463.8,1046.9 324.5,1032.8 288.9,1059.4 372.8,1059.4 150.6,1059.4 271.6,1059.4 236.8,1059.4 449.5,1050.2 310.4,1059.4 339,1059.4 292.5,1047.2 190.9,1059.4 313.9,1036 453.6,1050.8 449.7,1059.4 299.2,1059.4 390.1,1059.4 323.1,1037.9 170.3,1059.4 352.7,1059.4 243,1059.4 234.7,1049.4 239.2,1051 399.4,1043.8 400.4,1059.4 335.6,1031.4 476.9,1023.8 438.9,1011.4 238,1059.4 299,1039.2 382.3,1014 390.8,1044.4 469.7,1009.9 171.3,1059.4 322.3,1036.6 409.5,1048.5 329.8,1050.5 374.2,1016.8 204.4,1059.4 292.1,1040.2 309,1036.9 243.6,1048.8 343,1059.4 442.1,1025.5 395.6,1044.7 265.3,1059.4 322.5,1033.7 421.4,1008.7 177.4,1059.4 402,1026.4 300,1059.4 350.9,1045.3 288.1,1041 310.6,1047.1 376.5,1045.8 178,1059.4 294.3,1047.8 173.6,1059.4 372.4,1028.1 271,1059.4 185.4,1059.4 226.3,1048.9 193.5,1059.4 258.5,1059.4 266.8,1059.4 210.6,1059.4 245.2,1048 214.6,1059.4 242.8,1059.4 349.5,1026.7 182.8,1059.4 219.6,1059.4 370.4,1045.6 421.6,1004.8 287.9,1059.4 293.5,1059.4 249.6,1059.4 360.2,1059.4 232.3,1049.1 397.2,1009.4 264.9,1059.4 216.4,1059.4 227.7,1059.4 187.6,1059.4 388.9,1059.4 246.6,1059.4 201.3,1059.4 309.2,1048.7 448.5,1049.8 295.1,1059.4 247.2,1059.4 240.8,1059.4 435,994 317.3,1035.8 173.1,1059.4 318.7,1039.4 155.4,1059.4 340.2,1059.4 438.5,1016.6 269.4,1043.9 181.4,1059.4 278.6,1044.3 197.9,1059.4 384.3,1047.5 159.9,1059.4 412.5,1015.7 401,1059.4 223.9,1059.4 377.3,1044.9 183.8,1059.4 480.3,1051.4 336,1040.6 251.7,1059.4 451.9,983.4 238.6,1059.4 352.1,1025 502.9,1045.7 379.5,1039.9 185.8,1059.4 293.1,1050.8 389.1,1033.2 380.1,1059.4 458,1033.8 216.8,1059.4 266.6,1059.4 259.7,1059.4 199.5,1059.4 277.6,1059.4 328.1,1059.4 397.4,1059.4 369,1059.4 363.6,1020.1 225.3,1059.4 222.3,1059.4 168.1,1059.4 166.1,1059.4 275.2,1046.2 222.9,1052.3 301,1038.9 200.3,1059.4 473.3,1050.9 188.4,1051.9 182,1059.4 253.7,1059.4 419.7,1004.2 255.9,1059.4 238.8,1059.4 423.4,1049.9 281,1043.1 433.2,1047.5 394.8,1019.3 312,1059.4 398.4,1008.4 414.7,1047 499.3,1042.2 344.7,1027.7 261.3,1059.4 368.6,1059.4 189.9,1059.4 276.2,1059.4 343.2,1059.4 427,1010.1 508.7,1050.3 218.6,1059.4 257.1,1059.4 255.7,1059.4 457.6,1051.6 152.4,1059.4 196.5,1059.4 363,1022 374.9,1059.4 291.3,1042.4 169.7,1059.4 413.9,1049.2 165.1,1059.4 229.5,1059.4 245.4,1052.1 178.4,1059.4 364,1023 208,1059.4 425.4,1048 347.7,1044.1 417.9,1059.4 157,1059.4 326.5,1059.4 197.1,1059.4 427.2,1041.3 444.3,1051.6 207,1059.4 170.9,1059.4 282.7,1059.4 362.6,1059.4 426.4,1038.1 338,1059.4 273.4,1059.4 271.4,1059.4 497.8,1017.3 157.6,1059.4 342,1037.3 332.8,1059.4 228.9,1059.4 220.7,1059.4 340.8,1041.3 216,1059.4 202.1,1052.2 185,1059.4 391.8,1026.3 331,1032.1 416.9,1015.8 398.6,1014.4 212.8,1059.4 313.7,1059.4 285.3,1041.1 184.4,1059.4 180.4,1059.4 364.4,1040.3 406.5,1015.6 207.2,1051.6 163.1,1059.4 410.7,1011.2 187.8,1059.4 301.6,1038.7 256.1,1059.4 196.7,1059.4 235.8,1059.4 240.2,1059.4 289.5,1044.6 238.4,1048.2 324.7,1034.2 364.2,1059.4 182.4,1059.4 192.1,1059.4 297.1,1059.4 151.8,1059.4 178.6,1059.4 312.6,1059.4 174.4,1059.4 226.7,1059.4 492.4,1051.7 362,1059.4 331.8,1059.4 213.8,1059.4 429,998.6 210.4,1050.1 346.7,1059.4 215.2,1051.3 366.4,1020.3 355.7,1059.4 475.3,1051.2 320.5,1041.8 402.4,1059.4 263.1,1059.4 251.3,1050.8 253.3,1059.4 189.1,1059.4 300.2,1059.4 303.8,1059.4 242.6,1059.4 449.1,1059.4 385.3,1034.4 351.3,1040.3 261.9,1059.4 302.6,1059.4 410.5,1022.3 158.7,1059.4 265.9,1059.4 181.6,1059.4 225.7,1059.4 321.7,1059.4 388.1,1043.2 461.8,1059.4 299.4,1059.4 409.1,1010.2 276,1048.7 388.5,1012.8 334.4,1059.4 382.7,1015 398,1047.5 382.9,1022.8 222.1,1059.4 192.9,1059.4 256.9,1059.4 213.2,1059.4 157.4,1059.4 180,1059.4 309.6,1059.4 183.6,1059.4 303,1038.5 335.4,1029.1 216.2,1059.4 355.1,1041.4 315.1,1035.6 166.7,1059.4 289.1,1044.6 370.6,1040 188.9,1059.4 340.4,1059.4 150.4,1059.4 430.4,1048.9 330,1030.4 346.9,1026.2 179.2,1059.4 340,1059.4 162.3,1059.4 288.3,1059.4 269,1059.4 316.3,1059.4 414.3,1010.6 184.8,1059.4 291.5,1059.4 236.4,1059.4 474.9,980.5 552,890.2 521.2,943.2 480.7,977.7 373.8,1035.1 460.4,998.9 284.3,1059.4 518.4,953.9 406.9,1009.1 493.6,961.3 536.7,922.6 409.9,1032.7 472.7,984.9 514.1,989.7 503.3,961.9 457,985.2 413.3,1027.4 476.3,969.7 410.1,1021.7 483.6,966.7 394.2,1029.7 447.1,1001.2 457.8,981.1 533.1,924.5 534.9,932.5 433.8,1038.3 533.5,940.5 511.9,950.5 394.4,1039.7 427.4,1038.6 289.9,1059.4 509.9,954.2 480.1,982.8 544.5,899.1 437.7,1016.5 536.1,921.2 424.4,1045.1 535.9,923.3 528.2,937.5 484.8,967.5 412.1,1008.2 426.2,1028 551.6,862.6 449.3,996.1 507.1,951.6 545.6,896.5 426.8,1000.9 365.2,1036.8 468.3,996.4 422,1009.8 442.5,1032.2 544.9,902.7 470.3,1027.2 534.7,929.8 461.6,988.1 408.5,1025.2 438.1,993.7 477.3,971.3 506.7,959.2 550,879.6 517.6,956.7 478.3,1003.9 496.4,1021.8 503.9,952.6 470.1,979.2 536.3,943 353.9,1033.5 417.5,1019.2 395.8,1037.1 423.2,1005.6 517.2,942.2 467.6,978.4 548,913.4 506.1,956 386.3,1028.3 486.8,967.3 500.3,964.7 466.2,1004.3 474.3,1017.5 519.6,940.2 515,945.6 471.9,990.5 348.7,1040.1 519.2,952.9 497,1003 393.4,1031.3 549.8,901.5 368,1038.8 284.5,1059.4 423.8,999.4 305.6,1059.4 433.6,1034.7 522.2,970.4 456,1018.3 511.1,948.4 418.3,1022.1 548.4,885.9 552.2,871.4 424.8,1003.6 466.4,979.8 482.7,995.6 462.8,977.1 485.4,971.7 464.6,1024.7 540.3,937.2 466,997.9 543.7,925.1 416.7,1006.7 455.6,997.2 450.9,1000.6 468.1,998.2 537.1,931.3 447.7,986.3 534.3,941.3 421.8,1005.4 527,944.3 515.4,945.9 214,1059.4 474.7,996.2 474.5,978.6 483.4,1000.5 528.4,930.2 471.5,986 458.4,1012 405.9,1040.4 541.5,928.5 471.1,975.5 485.8,972.9 377.7,1043.7 546.8,908.3 523.8,970.2 509.1,958.7 297.4,1059.4 495.4,984 537.9,955 519.8,998 487.8,963.6 512.7,951.1 542.1,946.2 482.9,985.6 463.6,993.3 460,1006.2 446.3,992.7 521.6,947.6 405.4,1018.5 518,977.5 498,957.7 516.8,952.3 533.7,928.9 494.8,967.7 531.3,950 305,1059.4 532.7,931.7 448.3,990.1 478.7,991 477.1,1018.2 526,932.1 481.3,982.6 530.5,951.8 476.1,983.8 367.4,1046.1 499.5,975.2 520,939.9 384.7,1036.7 543.9,906.7 469.1,1004.1 542.7,904.9 540.5,912 527.6,940.8 435.2,1037.8 512.5,956.9 387.3,1021 501.5,997.8 405,1034.3 498.6,1016.4 501.3,961.1 508.1,953.4 367,1023.4 529.4,960.6 552.4,854.8 547.6,892.2 550.6,873.4 507.5,999 470.5,981.4 454.8,999.8 444.5,998.3 512.3,954.7 541.1,910.6 544.1,909.8 537.3,917 500.7,994.8 482.3,985.4 451.5,1003.5 504.7,967.9 549,882.8 457.4,1020.9 448.9,988.6 408.7,1007.2 436.2,1021.6 296.1,1059.4 510.9,946.7 517.4,941.9 519,939.3 392.6,1040.2 436.4,999.3 487.6,968.2 503.5,976.7 530.7,929.3 434.8,998.5 441.3,997.6 488.6,962.8 518.8,941 498.2,971.5 280,1059.4 531.7,926.1 489.2,963.8 520.6,941.6 513.9,959.7 403.4,1009 381.5,1038.8 509.7,951.3 488.4,962.6 538.1,915.5 540.7,925.6 548.8,912.7 453.2,1012.4 538.7,934.4 530.9,935.1 415.9,1019.5 492.2,974 446.5,1025.4 477.5,1004.9 529.9,928.1 485,980.7 528.8,930.9 274,1059.4 445.7,1005.5 394,1037.5 205.2,1059.4 465,976.5 537.7,927.1 521,944.6 347.3,1059.4 234.3,1059.4 344.1,1042.6 547.8,914.7 382.1,1041 452.6,994.6 328.4,1037.4 453.8,995.8 415.5,1039.6 525.4,957.4 535.5,949.2 415.1,1022.6 323.9,1059.4 466.6,998.8 412.9,1010.7 500.5,962.2 521.8,947 523,935.5 533.3,938.9 405.2,1024.6 544.7,918.3 522.8,957.9 505.5,986.7 535.1,920.5 316.7,1059.4 506.3,955.5 479.1,968.6 458.2,987.6 290.7,1059.4 490,996.6 516.4,971.8 342.8,1059.4 429.6,1008.8 519.4,942.4 456.8,996.5 483.1,973.1 529.6,933.7 515.2,960.9 502.7,1020.1 542.5,914.1 346.5,1039.8 512.9,945.4 484.4,992.5 476.5,969.3 436,1025.9 530.1,927.6 539.1,922 449.9,1026.5 522,938.6 491.6,962.1 479.9,972.4 446.9,1014.9 401.4,1009.5 504.9,970.8 488.2,963.2 496.6,979.6 540.1,917.6 537.5,916.2 532.9,947.9 404.2,1020 468.7,1011.6 426,1009.2 467,978.2 403.2,1026.1 348.3,1039.8 485.2,968.4 451.3,984.5 474.1,991.6 467.2,974.4 550.4,939.6 495,961.5 453.4,1013.7 551.2,972.5 510.5,975.7 445.3,987.4 508.9,955.2 514.4,959.9 517.8,1047.4 301.2,1059.4 432.4,1043.3 550.2,926.6 549.6,997.5 550.8,875.2 520.2,942.7 418.5,1042.2 465.6,975.9 461.4,988.8 541.9,954.5 452.1,1014.2 402.6,1008.1 444.7,989.4 443.1,991.2 551.4,893.7 417.1,1011.7 549.2,909 420.9,1002.7 539.3,1037.6 444.1,988.3 445.9,992.9 470.7,1031 423,1000 507.3,1002.9 506.9,950.3 498.9,961.7 481.1,992.3 430.2,1014.5 248.2,1059.4 526.6,948.7 546.2,895.1 454,993.1 524,949.7 410.9,1041.2 525.2,955.7 424,1006.3 504.5,975 546,919.8 541.3,911.3 498.4,970.6 528.6,983.2 551.8,897.8 523.6,958.4 403.8,1005.9 543.1,946.5 491.2,1050.3 496,958.9 499.7,995 469.3,1027.1 524.6,936.2 486.4,965.6 362.4,1020.8 551,867.9 429.8,997.4 513.3,964.5 490.4,1020.7 542.3,905.9 478.9,1044.8 443.3,1045.2 502.5,1043.8 508.3,999.2 512.1,949 478.5,1040.6 406.3,1047 548.2,903.8 365.6,1059.4 547.4,923.9 456.4,983.6 433.4,995.2 321.3,1059.4 462.2,995.4 428.8,999.6 494,1031.1 375.9,1018.8 415.7,1020.4 457.2,1048.5 529,989.9 527.8,972.2 460.2,980 547.2,888.4 473.7,972 538.3,1046.7 491,965.5 468.9,995.9 543.3,945.1 539.5,964 479.5,971.1 421.1,1006.4 484,966.4 511.5,1007.5 427.6,1018.9 462,981.6 432.6,996.9 273.8,1059.4 422.4,1013.2 552.6,844.3 492,992.1 509.3,978.8 414.9,1003.2 448.7,987.9 475.9,1001 543.5,1042.8 497.6,972.7 446.7,987.2 549.4,944.9 493.4,1048.6 482.5,981.8 486,1029.4 492.8,1045 445.5,1010 513.5,952.1 441.9,1047.7 526.8,1008.6 408.1,1007.1 536.5,932.9 539.7,919 448.1,1039.5 525.8,1040.7 413.7,1048.9 503.7,989.2 434,1029.2 535.7,1002.6 469.5,1049.6 332,1030 389.5,1048.3 523.2,938.2 450.5,1046.8 443.5,1047.8 444.9,1006.6 482.1,984.7 495.8,1049.1 437.3,1039.1 515.8,986.9 434.4,1000.1 523.4,982.4 355.3,1059.4 461,1009.6 366,1020.5 353.3,1028.4 426.6,1050.4 534.5,979.4 430.8,1002 513.1,959.4 425.8,1008.9 503.1,953.7 396,1040.9 459.6,994.4 500.9,958.2 544.3,900.4 506.5,1029.5 490.8,1049.4 516.2,948.2 466.8,1022.9 385.5,1043.1 497.2,966.9 418.7,1002.5 532.1,937.9 402.8,1007.7 440.5,990.7 452.8,1044.7 437.5,1022.2 480.5,967.1 487,1026.6 510.3,947.3 490.2,1047.3 464.8,979 501.1,956.5 471.3,978 326.3,1059.4 478.1,1014.7 525.6,936.8 455.2,984.3 510.1,1049.6 538.9,1039.1 438.7,991.4 479.7,1003.8 435.6,993.5 463.4,1019.1 475.1,976.1 480.9,973.5 467.9,974.8 455.4,1010.5 510.7,966 458.8,980.9 521.4,953.1 530.3,930.5 538.5,934 477.7,969.5 447.5,986.5 465.8,989 542.9,907.6 477.9,1001.6 508.5,1001.3 472.3,1004.5 422.2,1004.6 455.8,994.2 514.8,944 439.1,1024.3 539.9,936.5 459,1049 472.5,1000.2 475.5,1047.4 483.8,1036.9 393.6,1021.9 450.1,1005.2 462.6,977.3 245.6,1059.4 509.5,1050 515.6,943.8 533.9,965.3 493,1046 524.2,934.7 350.1,1059.4 465.2,976.9 529.2,965.8 489.8,1037.3 487.4,983 534.1,960.4 396.4,1045.2 393,1023.6 535.3,943.5 495.6,968.1 546.6,957.2 518.6,971 325.7,1059.4 532.5,960.1 545.8,1019 505.7,1001.4 481.7,970.1 392.8,1012.3 531.9,933.3 520.8,956.2 511.7,982 442.7,1043.6 379.1,1027.5 489.4,964.9 514.6,964.4 428.6,1028.7 179.4,1059.4 527.2,935.8 524.4,965.1 351.5,1037.1 356.5,1032.5 432.8,1009.7 291.1,1059.4 505.9,1059.4 239,1059.4 481.5,1052 407.3,1006 487.2,1050.9 277.4,1059.4 295.5,1047.3 235.1,1059.4 417.3,1034.4 221.7,1059.4 252.5,1048.3 218.8,1052 410.3,1046.3 217,1051 492.6,1052.2 490.6,1018.7 284.1,1046.4 344.3,1059.4 359.8,1049.7 454.2,1013.3 255.1,1059.4 502.3,1059.4 486.6,1051.7 399.8,1019.4 366.2,1022.2 211.8,1050.7 169.5,1059.4 547,1052.3 196.3,1059.4 327.1,1059.4 528,963.4 359.6,1059.4 291.9,1059.4 470.9,980.2 255.3,1046.3 373.4,1017.8 226.9,1059.4 310.8,1059.4 419.5,1007.6 488,1037 310,1059.4 439.5,1059.4 150.8,1059.4 172.3,1059.4 419.3,1049.5 345.5,1033.4 241.2,1059.4 222.7,1059.4 261.7,1051.5 522.4,980.3 520.4,1051.5 209.6,1059.4 327.9,1059.4 359.1,1048.5 208.4,1050.3 418.1,1049 275.6,1047.1 274.2,1047.2 285.1,1045.6 336.2,1059.4 304.6,1059.4 312.9,1059.4 168.5,1059.4 172.7,1059.4 489,1052.1 158.5,1059.4 180.2,1059.4 225.1,1059.4 417.7,1011 531.5,969 379.9,1024.8 447.3,1033 367.8,1059.4 315.5,1044.3 499.9,1051.2 403,1013.9 425.6,1035.3 154.8,1059.4 462.4,1046.4 243.2,1059.4 218.4,1059.4 250.9,1059.4 479.3,1041.9 507.9,1050.5 212.4,1049.7 342.4,1059.4 461.2,1045 243.8,1051.6 237.4,1059.4 516,1048.5 361,1030.5 170.1,1059.4 441.7,1044.5 416.1,1031.7 499.1,1051.8 546.4,1052.1 422.8,1026.8 354.5,1059.4 536.9,1059.4 300.8,1059.4 173.4,1059.4 247.4,1049.5 373,1031.9 398.8,1042.6 321.5,1033.9 401.2,1017.6 264.3,1059.4 302.4,1045.4 272.8,1045.4 526.2,1052.2 531.1,1048.8 501.9,1017.7 272.2,1059.4 204.1,1059.4 429.4,1035.7 494.2,1048.4 197.5,1059.4 315.3,1050.2 343.6,1050.6 540.9,1059.4 180.8,1059.4 170.5,1059.4 371.2,1048.7 489.6,963 532.3,1059.4 220.5,1059.4 425.2,1011.3 178.2,1059.4 493.8,969.9 263.9,1051.5 548.6,1059.4 232.1,1059.4 155.6,1059.4 232.7,1059.4 253.5,1059.4 357.9,1028.1 431,1046.6 164.3,1059.4 290.3,1041.9 194.9,1051 163.3,1059.4 382.5,1023.5 472.1,1022.5 199.9,1059.4 265.7,1059.4 404.4,1059.4 191.1,1059.4 522.6,999.7 353.1,1046.2 236.6,1059.4 242.2,1048.1 468.5,1040 413.5,1003.1 159.1,1059.4 545.4,982.2 526.4,1045.2 454.4,1050.5 236.2,1049.1 440.3,1048.7 209,1059.4 322.1,1049.2 177.8,1059.4 282.3,1059.4 493.2,969.1 309.4,1059.4 349.7,1027.6 207.4,1051.2 179,1059.4 175.6,1059.4 450.3,1044.2 356.9,1047.9 314.1,1059.4 486.2,976.3 413.1,1059.4 221.5,1059.4 339.4,1042.3 415.3,1048.5 165.7,1059.4 437.9,1059.4 306,1048.3 400,1049.1 285.5,1059.4 217.2,1059.4 186.4,1059.4 339.2,1030.6 326.1,1059.4 418.9,1017.1 385.7,1030.1 387.7,1059.4 371.6,1059.4 228.5,1050.5 155,1059.4 395.2,1016.1 432.2,1047.9 331.2,1040.7 166.3,1059.4 414.5,1041.6 505.1,1024.9 233.5,1059.4 203.5,1051.1 332.4,1034 175.2,1059.4 151.4,1059.4 333,1034.6 321.1,1033.6 183.4,1059.4 247,1059.4 270.8,1051.1 154,1059.4 314.7,1036.3 325.5,1034.5 194.3,1059.4 228.1,1052 341,1048 317.9,1059.4 214.2,1051.7 395,1059.4 223.5,1059.4 336.6,1059.4 166.9,1059.4 455,1008.3 219.2,1052 206.4,1059.4 217.8,1052.1 349.1,1024.2 411.3,1059.4 525,1059.4 167.3,1059.4 260.3,1048.9 408.9,1048.1 306.8,1041.7 162.9,1059.4 316.1,1040.8 226.5,1059.4 259.5,1045.3 153.2,1059.4 186.8,1059.4 343.9,1059.4 389.9,1042.3 375.1,1017 319.1,1035.4 213.6,1051 202.5,1059.4 209.8,1059.4 463,1052.1 316.5,1049.5 235.4,1059.4 392,1010.3 374,1049.7 397.8,1048.8 221.1,1050.3 329,1059.4 177.2,1059.4 332.2,1029.9 264.7,1059.4 308.2,1051.8" fill="none" stroke="none" marker-start="url(#mg)" marker-mid="url(#mg)" marker-end="url(#mg)"/>
<g clip-path="url(#c01)" fill="none" stroke-width="1.39" stroke-linecap="square">
<path d="M165.5 1059.5H175.5V1059.5H165.5ZM170.5 1059.5V1059.5M170.5 1059.5V1059.5M168.5 1059.5H173.5M168.5 1059.5H173.5M185.5 1059.5H195.5V1059.5H185.5ZM190.5 1059.5V1059.5M190.5 1059.5V1059.5M188.5 1059.5H193.5M188.5 1059.5H193.5M205.5 1059.5H215.5V1059.5H205.5ZM210.5 1059.5V1059.5M210.5 1059.5V1059.5M208.5 1059.5H213.5M208.5 1059.5H213.5M225.5 1059.5H236.5V1051.5H225.5ZM231.5 1059.5V1059.5M231.5 1051.5V1048.5M228.5 1059.5H233.5M228.5 1048.5H233.5M246.5 1059.5H256.5V1052.5H246.5ZM251.5 1059.5V1059.5M251.5 1052.5V1046.5M248.5 1059.5H253.5M248.5 1046.5H253.5M266.5 1059.5H276.5V1050.5H266.5ZM271.5 1059.5V1059.5M271.5 1050.5V1043.5M268.5 1059.5H273.5M268.5 1043.5H273.5M286.5 1059.5H296.5V1045.5H286.5ZM291.5 1059.5V1059.5M291.5 1045.5V1040.5M288.5 1059.5H293.5M288.5 1040.5H293.5M306.5 1059.5H316.5V1040.5H306.5ZM311.5 1059.5V1059.5M311.5 1040.5V1036.5M309.5 1059.5H314.5M309.5 1036.5H314.5M326.5 1059.5H336.5V1036.5H326.5ZM331.5 1059.5V1059.5M331.5 1036.5V1030.5M329.5 1059.5H334.5M329.5 1030.5H334.5M346.5 1059.5H356.5V1031.5H346.5ZM351.5 1059.5V1059.5M351.5 1031.5V1023.5M349.5 1059.5H354.5M349.5 1023.5H354.5M366.5 1047.5H376.5V1025.5H366.5ZM371.5 1047.5V1059.5M371.5 1025.5V1017.5M369.5 1059.5H374.5M369.5 1017.5H374.5M387.5 1044.5H397.5V1016.5H387.5ZM392.5 1044.5V1059.5M392.5 1016.5V1010.5M389.5 1059.5H394.5M389.5 1010.5H394.5M407.5 1047.5H417.5V1012.5H407.5ZM412.5 1047.5V1059.5M412.5 1012.5V1004.5M409.5 1059.5H414.5M409.5 1004.5H414.5M427.5 1045.5H437.5V1005.5H427.5ZM432.5 1045.5V1059.5M432.5 1005.5V996.5M429.5 1059.5H434.5M429.5 996.5H434.5M447.5 1038.5H457.5V994.5H447.5ZM452.5 1038.5V1059.5M452.5 994.5V984.5M449.5 1059.5H454.5M449.5 984.5H454.5M467.5 1041.5H477.5V985.5H467.5ZM472.5 1041.5V1059.5M472.5 985.5V972.5M470.5 1059.5H475.5M470.5 972.5H475.5M487.5 1046.5H497.5V979.5H487.5ZM492.5 1046.5V1059.5M492.5 979.5V961.5M490.5 1059.5H495.5M490.5 961.5H495.5M507.5 997.5H517.5V959.5H507.5ZM512.5 997.5V1052.5M512.5 959.5V945.5M510.5 1052.5H515.5M510.5 945.5H515.5M527.5 970.5H537.5V941.5H527.5ZM532.5 970.5V1013.5M532.5 941.5V926.5M530.5 1013.5H535.5M530.5 926.5H535.5M548.5 946.5H558.5V909.5H548.5ZM553.5 946.5V993.5M553.5 909.5V857.5M550.5 993.5H555.5M550.5 857.5H555.5M568.5 844.5H578.5V844.5H568.5ZM573.5 844.5V844.5M573.5 844.5V844.5M570.5 844.5H575.5M570.5 844.5H575.5" stroke="#000"/>
<path d="M165.5 1059.5H175.5M185.5 1059.5H195.5M205.5 1059.5H215.5M225.5 1059.5H236.5M246.5 1059.5H256.5M266.5 1059.5H276.5M286.5 1059.5H296.5M306.5 1059.5H316.5M326.5 1042.5H336.5M346.5 1042.5H356.5M366.5 1040.5H376.5M387.5 1032.5H397.5M407.5 1033.5H417.5M427.5 1023.5H437.5M447.5 1012.5H457.5M467.5 1004.5H477.5M487.5 997.5H497.5M507.5 971.5H517.5M527.5 952.5H537.5M548.5 925.5H558.5M568.5 844.5H578.5" stroke="#ff7f0e"/>
</g>
<path d="M150.5 648.5H573.5V1068.5H150.5Z" fill="none" stroke="#000" stroke-width="1.1" stroke-linejoin="miter"/>
<path d="M170.5 1068.5v5M190.5 1068.5v5M210.5 1068.5v5M231.5 1068.5v5M251.5 1068.5v5M271.5 1068.5v5M291.5 1068.5v5M311.5 1068.5v5M331.5 1068.5v5M351.5 1068.5v5M371.5 1068.5v5M392.5 1068.5v5M412.5 1068.5v5M432.5 1068.5v5M452.5 1068.5v5M472.5 1068.5v5M492.5 1068.5v5M512.5 1068.5v5M532.5 1068.5v5M553.5 1068.5v5M573.5 1068.5v5" stroke="#000" stroke-width="1.1" fill="none"/>
<path d="M150.5 1068.5h-5M150.5 1003.5h-5M150.5 939.5h-5M150.5 874.5h-5M150.5 810.5h-5M150.5 745.5h-5M150.5 680.5h-5" stroke="#000" stroke-width="1.1" fill="none"/>
<polyline clip-path="url(#c11)" points="695.5,1059.4 682.8,1059.4 787.3,1042 752.9,1059.4 760.9,1059.4 984.6,1045.8 854.1,1059.4 757.7,1059.4 729.5,1050.1 673.8,1059.4 897.4,1013 701.2,1059.4 834.8,1037.5 730.3,1059.4 851.3,1027 891.8,1059.4 864.4,1025.8 701.6,1052.2 794.8,1046.7 704.6,1059.4 992.6,1031.8 709.4,1050.7 800,1042.1 883.3,1021.1 980.8,974.6 768.6,1059.4 779.5,1059.4 665.5,1059.4 665.7,1059.4 714.4,1051.1 801.2,1059.4 959.2,1051.4 873.1,1028.6 713.4,1059.4 918.2,1059.4 964.7,1046.6 955.6,1051.4 800.8,1059.4 755.1,1059.4 1014.4,1049.8 947.7,1013.6 698.9,1059.4 879.5,1059.4 733.2,1059.4 985.4,973.7 806.2,1040.5 925,1028.2 841.5,1030.7 695.3,1059.4 990,1052.2 672.2,1059.4 849.9,1059.4 711.8,1059.4 781.3,1044.9 759.9,1059.4 826.2,1034.8 900.4,1045.9 906.3,1039.2 754.5,1059.4 978.1,1049.9 901,1037.2 732.2,1050.6 792.3,1059.4 821.1,1059.4 791.7,1044.2 965.5,1051.8 702.6,1059.4 718.9,1059.4 915.5,1047.3 721.1,1050.5 894,1020.2 890,1059.4 932.6,1045.4 745.2,1059.4 756.3,1059.4 963.2,1048.4 923.8,1012.1 826.8,1059.4 863,1025.3 895.6,1048.3 878.7,1023.1 725.5,1049.3 661.5,1059.4 1019.6,1049.8 935.7,1025.1 694.7,1059.4 786.9,1043.4 702.2,1059.4 906.7,1010.9 749.9,1059.4 709.8,1059.4 834,1033.1 916.5,1018.6 921.4,1021.4 710.4,1059.4 732.8,1050.1 825.2,1059.4 710.8,1059.4 719.3,1059.4 761.5,1059.4 839,1038.5 837.2,1059.4 834.2,1059.4 704,1059.4 735,1059.4 994.4,1051.7 990.6,1051.9 850.5,1038.9 713.2,1059.4 742.6,1059.4 824.6,1035.3 983.4,1050.8 953.4,1051.2 1020,966.2 727.9,1059.4 745.6,1059.4 858.6,1042.5 663.9,1059.4 737.8,1059.4 704.2,1059.4 999.1,1059.4 747.3,1059.4 844.5,1059.4 914.1,1059.4 720.7,1059.4 658.1,1059.4 872.5,1034.9 870,1021.3 798.4,1043 667.9,1059.4 913.5,1059.4 895.8,1047.6 901.6,1059.4 984.8,1041.3 711,1059.4 678.6,1059.4 707.6,1059.4 741.6,1059.4 664.9,1059.4 742.4,1059.4 765.6,1059.4 698.5,1059.4 807,1059.4 810.7,1059.4 872.3,1059.4 660.3,1059.4 766.8,1047.6 767.2,1050 697.3,1059.4 734.6,1059.4 805.6,1046.2 966.1,1050.1 754.3,1049.6 827.6,1059.4 982.8,1050.8 806.4,1059.4 874.9,1021.8 679,1059.4 678,1059.4 704.4,1059.4 680.4,1059.4 784.1,1059.4 739.6,1051.8 905.5,1047.7 853.5,1059.4 667.3,1059.4 936.5,1059.4 708,1051.3 778.9,1043.5 707.4,1059.4 671.8,1059.4 844.3,1059.4 663.5,1059.4 660.7,1059.4 763.8,1059.4 925.8,1025.7 861.6,1059.4 798,1059.4 890.4,1040.4 865.4,1037.6 927,1059.4 860.6,1022.7 753.3,1059.4 718.1,1059.4 683,1059.4 709.6,1059.4 662.7,1059.4 722.7,1059.4 871.7,1059.4 790.3,1048.6 917.6,1021.5 977.1,996.8 819.9,1046.7 863.4,1040.8 811.1,1039.6 776.6,1059.4 998.7,962.4 879.3,1059.4 692.3,1059.4 721.7,1059.4 852.7,1059.4 671.6,1059.4 839.6,1059.4 684.9,1059.4 785.5,1044.4 775,1044.9 800.2,1059.4 819.5,1059.4 870.2,1039.6 835.4,1036.2 703.6,1059.4 953.2,990.3 743.8,1049.8 951.4,1047.4 670.4,1059.4 791.3,1059.4 907.5,1013.1 810.5,1059.4 926.6,1000.8 792.9,1059.4 668.9,1059.4 700.8,1059.4 979.6,1041.5 872.1,1043.1 908.9,1049.4 749.3,1059.4 732.4,1059.4 943.9,1049.6 779.7,1044.5 735.2,1049.7 989.8,1051.6 886.4,1019.7 853.1,1028.8 732,1059.4 855.8,1029 806.8,1043.2 805.4,1044.8 810.1,1059.4 739.8,1059.4 927.4,1007.3 956.4,1046.6 799.4,1059.4 706,1050.9 800.6,1059.4 949.8,1007.8 669.4,1059.4 671,1059.4 995.9,1049.9 725.1,1059.4 664.5,1059.4 664.7,1059.4 741.2,1059.4 822.7,1059.4 942.9,1045.7 767,1045.7 739.4,1059.4 950.8,1047.4 908.1,1049 699.7,1059.4 928.6,1001.7 770.8,1059.4 957.8,1048.1 860.4,1046 961,1059.4 701.4,1059.4 789.5,1059.4 701,1059.4 883.7,1024 892,1059.4 662.1,1059.4 840.3,1032 861.2,1043.7 769.6,1059.4 691.9,1059.4 768,1049.8 804.4,1046.4 1008.1,1032.4 745.4,1059.4 751.5,1050 1010.4,1051.4 1000.9,985.8 741.4,1059.4 893.6,1046.7 948.1,1035.2 666.5,1059.4 889.2,1023.3 807.6,1059.4 703.4,1059.4 930.2,1018 697.9,1059.4 813.3,1059.4 675,1059.4 687.1,1059.4 826.4,1035.9 930.8,1059.4 809.1,1059.4 667.5,1059.4 677.4,1059.4 759.1,1059.4 706.6,1059.4 693.5,1059.4 831.4,1059.4 985.6,1017.9 736,1059.4 719.1,1059.4 751.3,1059.4 750.1,1059.4 812.3,1059.4 830.2,1059.4 794.2,1059.4 756.5,1059.4 836.4,1035.5 816.7,1059.4 848.5,1036 986.2,1049.4 864,1040.1 839.4,1029.8 989.6,1051 749.1,1059.4 835.6,1035 879.9,1059.4 858.2,1038.3 761.1,1059.4 955.4,1000.4 669.8,1059.4 856.2,1059.4 698.1,1059.4 678.4,1059.4 954,1047.7 970.5,1046.1 974.3,1043.6 947.1,1049 761.7,1059.4 881.1,1059.4 991.4,1016.7 797.6,1059.4 1001.5,1059.4 851.7,1059.4 916.1,1059.4 1046,1050.6 703,1051.9 887.8,1015.9 772.6,1059.4 725.9,1059.4 679.2,1059.4 829.4,1059.4 707,1051 1024.8,1050.9 793.8,1043.6 936.9,1043.9 779.1,1045.9 937.9,1002.2 710.6,1059.4 734.2,1059.4 790.7,1059.4 877.3,1059.4 718.3,1059.4 776.2,1059.4 765,1059.4 683.4,1059.4 867.2,1059.4 1020.6,1050.6 751.1,1059.4 1022.2,1047.2 846.5,1028.9 693.9,1059.4 789.9,1047.8 856,1059.4 785.1,1059.4 839.9,1038.1 1005.1,1051.8 675.6,1059.4 1007.3,1050.7 894.6,1012.6 697.7,1059.4 828.8,1059.4 964.5,1048.8 793.6,1046.5 786.1,1059.4 929.8,1047 866,1033.3 959.6,1044.2 772.8,1059.4 937.3,1011.9 677,1059.4 934.5,1043.3 750.5,1059.4 769.8,1059.4 771.8,1059.4 860.2,1023 1004.1,1052.3 769,1059.4 804.8,1059.4 866.4,1044 865,1059.4 895,1034.1 676,1059.4 795,1059.4 783.1,1043.4 1028.7,1047.9 780.1,1048.4 667.1,1059.4 743.2,1059.4 733.4,1059.4 756.7,1050.8 676.4,1059.4 969.7,1050.6 836.6,1030.9 803.4,1039.7 848.9,1029.2 740.6,1059.4 926.4,1047.8 754.9,1059.4 923.4,1048.6 1026.9,1048.4 825,1059.4 840.9,1059.4 774,1044.3 740.8,1059.4 1005.7,1049.7 793.1,1059.4 812.9,1059.4 753.1,1047.6 799.6,1059.4 995.1,1051.4 886.1,1023.9 962.6,1049.6 788.1,1041.5 813.5,1042.4 992,1047.6 815.5,1059.4 1027.1,1059.4 729.3,1051.3 834.6,1038.7 686.1,1059.4 881.7,1059.4 811.9,1041.8 971.7,1006.8 775.8,1059.4 830.6,1059.4 862.8,1059.4 817.7,1042.1 719.7,1059.4 855.4,1059.4 715,1059.4 972.1,1050 880.9,1023.2 820.3,1039 687.3,1059.4 1017.4,1050.1 833.6,1059.4 862.2,1059.4 782.1,1059.4 787.1,1042 773.8,1059.4 707.8,1059.4 1020.2,1002.4 773,1059.4 720.3,1059.4 919,1048.2 910.7,1059.4 807.2,1059.4 777,1059.4 946.3,1005.1 1019.8,1008 869,1059.4 717.5,1059.4 1041.1,1051.5 993.4,1045.5 996.7,974.2 756.9,1059.4 738.2,1059.4 962.4,1048 744.2,1059.4 716.5,1059.4 797,1059.4 880.7,1024.4 686.9,1059.4 734,1059.4 907.3,1048.2 661.7,1059.4 732.6,1059.4 876.7,1046.2 734.4,1049.5 937.1,1005.8 738.8,1059.4 803.8,1059.4 726.7,1059.4 843.9,1028.5 682.2,1059.4 828,1036.4 967.1,1046.5 1045.4,1049.3 739,1049.1 680,1059.4 804.2,1059.4 815.3,1037.9 689.7,1059.4 817.9,1059.4 672,1059.4 889.8,1059.4 1000.5,964.2 823.3,1049.9 679.4,1059.4 683.2,1059.4 721.3,1059.4 841.9,1031.2 915.1,1059.4 845.7,1042.5 829.6,1039.5 995.7,1048.1 848.7,1032.3 902.9,1048.3 748.7,1059.4 803.6,1059.4 766,1059.4 802.2,1059.4 680.2,1059.4 802,1059.4 791.1,1041.6 1020.8,1038.2 1013.8,1051.3 1011.6,973.3 716.1,1059.4 897.6,1027.8 814.1,1037.7 753.9,1059.4 884.3,1046.9 846.7,1037 945.9,1047.3 987.8,1047 995.5,966.5 1008.7,1046.8 696.3,1059.4 959.4,1049.9 848.1,1059.4 811.7,1049.3 937.7,1059.4 902.1,1042.8 981.4,1049.3 799.2,1041.1 945.7,991.8 896.4,1059.4 981.2,1046.9 801.4,1039.9 748.5,1050.4 1015.2,1050.6 874.7,1019.6 660.5,1059.4 723.9,1059.4 849.7,1059.4 788.9,1059.4 778.3,1059.4 850.3,1027.3 1008.9,1049.2 934.7,1012.7 714.2,1059.4 765.2,1046.3 938.7,1047.1 764,1059.4 658.9,1059.4 809.3,1039 796.2,1059.4 884.7,1045.8 728.7,1059.4 1037.3,1024.1 831.8,1038.2 720.9,1059.4 880.5,1021.1 856.8,1038 860.8,1022.7 876.5,1018.1 750.3,1059.4 924.8,1002.1 876.9,1059.4 766.6,1059.4 1030.3,1051.7 789.1,1048.2 696.1,1051.2 722.1,1059.4 699.3,1059.4 922.4,1046 946.1,1059.4 662.5,1059.4 758.7,1059.4 708.8,1059.4 731.6,1059.4 859.4,1059.4 710.2,1051.5 1003.7,1050.4 752.3,1059.4 969.3,1047.5 759.7,1059.4 835,1031.5 874.3,1042.9 660.1,1059.4 934.1,1001.8 695.9,1059.4 818.3,1037.8 796,1042.1 877.9,1059.4 773.4,1059.4 723.5,1059.4 904.9,1044 852.5,1059.4 774.8,1059.4 679.8,1059.4 763.6,1045.6 694.9,1059.4 742.8,1059.4 806.6,1059.4 820.5,1038.8 844.1,1059.4 827.4,1036.5 758.3,1047.7 810.9,1059.4 990.8,1050.4 936.3,1043.9 677.6,1059.4 699.5,1059.4 863.6,1059.4 708.6,1059.4 919.2,1003.3 698.7,1059.4 666.1,1059.4 743,1049.5 941.1,1049.2 954.2,1044.1 813.7,1059.4 818.9,1037.7 659.3,1059.4 849.1,1059.4 893.2,1059.4 1020.4,949.5 875.3,1019.8 846.9,1042.7 951.6,1045 1005.9,1043.5 702.4,1051.1 815.9,1050.2 906.5,1014.1 741,1059.4 740.4,1051.9 721.5,1050.2 757.1,1046.9 657.7,1059.4 927.2,1059.4 771.6,1046.5 658.7,1059.4 861.8,1047.2 818.5,1059.4 981.8,1052 813.1,1038.4 935.9,1049 764.8,1059.4 745,1059.4 670.6,1059.4 882.7,1016.3 781.9,1043.8 872.9,1044 920.2,1016.2 789.7,1043.4 889.6,1045.3 719.5,1059.4 775.2,1059.4 740,1059.4 738.6,1059.4 795.6,1048.6 961.8,1017.2 833,1032.6 908.7,1059.4 666.9,1059.4 689.9,1059.4 693.3,1059.4 954.8,1026.9 663.1,1059.4 816.1,1059.4 688.5,1059.4 933.3,1047.8 681.2,1059.4 726.5,1059.4 730.1,1059.4 769.4,1044.8 877.7,1059.4 828.2,1059.4 922.8,1045.1 974.1,1007 705,1050.9 758.5,1059.4 896.6,1019.9 866.2,1036.8 716.7,1050.3 686.7,1059.4 709.2,1059.4 712.4,1059.4 784.9,1042.7 891,1059.4 836,1031.6 829.8,1059.4 773.6,1059.4 854.5,1029.3 727.1,1059.4 892.6,1046.6 751.7,1059.4 781.7,1059.4 786.3,1059.4 851.5,1037.4 774.4,1059.4 960.6,997.1 797.8,1059.4 822.3,1038.6 845.3,1048.4 1024.4,950.8 780.9,1059.4 957.4,1040.5 690.1,1059.4 1039.1,1049.4 792.1,1041.4 700.1,1059.4 847.1,1059.4 737.4,1059.4 728.9,1059.4 757.3,1059.4 870.9,1026 804.6,1039.4 824.8,1059.4 699.9,1059.4 675.8,1059.4 660.9,1059.4 916.7,1059.4 722.3,1059.4 955.2,1015.2 819.3,1059.4 737,1059.4 868,1059.4 1051.6,1059.4 942.3,1049.7 711.6,1059.4 820.7,1059.4 658.5,1059.4 727.7,1059.4 871.3,1029.6 814.9,1059.4 946.7,1049.2 921.8,1014.6 927.6,1013.5 891.2,1042.8 970.3,1049.5 707.2,1059.4 861.4,1044.4 1015.4,1048.9 676.6,1059.4 668.1,1059.4 1039.3,1046.8 700.6,1059.4 976.7,1049.3 842.9,1032.9 774.6,1059.4 754.1,1047.9 662.9,1059.4 781.1,1059.4 726.3,1059.4 839.2,1059.4 905.1,1015.4 692.7,1059.4 998.9,1050.7 683.6,1059.4 760.7,1059.4 755.9,1059.4 991,968.8 793.4,1059.4 753.7,1048.8 728.1,1059.4 717.3,1059.4 768.8,1059.4 695.7,1059.4 854.3,1046.4 671.2,1059.4 880.3,1059.4 840.5,1029.9 775.4,1059.4 840.1,1030.2 762.4,1059.4 767.8,1059.4 661.1,1059.4 750.7,1059.4 843.1,1059.4 735.4,1059.4 842.5,1040.9 754.7,1049.1 811.5,1042.5 843.3,1059.4 897.2,1059.4 752.7,1059.4 785.7,1045.8 942.1,1050.2 974.7,1027.9 865.6,1059.4 905.3,1046.1 900,1044.7 1003.1,1021.2 669.6,1059.4 678.2,1059.4 716.9,1059.4 760.5,1059.4 1010.8,1050.7 670.2,1059.4 778.1,1059.4 773.2,1046.8 685.9,1059.4 864.6,1059.4 703.2,1059.4 667.7,1059.4 1045.2,1059.4 904.3,1036.6 890.2,1017.4 665.1,1059.4 917.1,1045.5 743.6,1059.4 924.4,1036.1 776.8,1045.1 975.5,1059.4 963.4,1048.7 688.1,1059.4 867.6,1022.4 862.6,1039.3 802.8,1045.5 714.8,1059.4 877.1,1023.4 666.3,1059.4 997.7,1047.1 722.5,1059.4 752.5,1051.1 694.3,1059.4 738,1059.4 686.5,1059.4 837,1039.3 931.4,1015.1 680.6,1059.4 796.4,1048 969.1,1015.5 725.3,1059.4 785.3,1050.3 713.6,1059.4 716.3,1059.4 1052.2,1051.9 838.2,1030.3 1008.5,1050.4 812.1,1038.4 784.7,1059.4 659.7,1059.4 709,1059.4 780.5,1044.6 689.5,1059.4 898.6,1041.7 808.4,1040 767.4,1059.4 830.8,1036.5 952.4,1045.9 768.4,1050 687.5,1059.4 869.6,1020.6 711.4,1059.4 798.8,1041.2 728.3,1059.4 888.6,1059.4 782.5,1043 818.7,1042.9 820.1,1046.9 881.5,1032.8 726.1,1059.4 694.1,1059.4 797.2,1059.4 849.3,1059.4 852.1,1059.4 738.4,1050.2 680.8,1059.4 710,1059.4 952,1047.2 681,1059.4 862,1036 720.1,1050.8 675.2,1059.4 725.7,1059.4 693.7,1059.4 920,1037.9 740.2,1059.4 699.1,1059.4 753.5,1059.4 939.1,1049.4 998.1,1051 798.2,1043.8 715.2,1059.4 848.3,1031.4 894.8,1023.8 898.4,1011.4 690.3,1059.4 832.2,1039.2 928.8,1014 787.5,1044.4 912.5,1009.9 791.9,1059.4 827.2,1036.6 748.1,1048.5 1041.4,1050.5 912.7,1016.8 676.2,1059.4 833.8,1040.2 852.9,1036.9 929.2,1048.8 691.3,1059.4 870.6,1025.5 788.7,1044.7 688.3,1059.4 853.3,1033.7 1001.9,1008.7 857,1059.4 853.9,1026.4 746.2,1059.4 994.6,1045.3 853.7,1041 970.7,1047.1 769.2,1045.8 807.8,1059.4 963.6,1047.8 696.7,1059.4 970.9,1028.1 673.2,1059.4 677.2,1059.4 902.7,1048.9 879.7,1059.4 825.4,1059.4 809.7,1059.4 778.7,1059.4 905.9,1048 907.1,1059.4 736.8,1059.4 868.4,1026.7 705.2,1059.4 713.8,1059.4 768.2,1045.6 993.8,1004.8 783.3,1059.4 686.3,1059.4 659.9,1059.4 701.8,1059.4 923.2,1049.1 953,1009.4 795.4,1059.4 837.4,1059.4 778.5,1059.4 765.8,1059.4 720.5,1059.4 712.6,1059.4 668.7,1059.4 992.4,1048.7 746,1049.8 665.9,1059.4 668.5,1059.4 774.2,1059.4 964.9,994 846.3,1035.8 876.3,1059.4 807.4,1039.4 689.3,1059.4 670.8,1059.4 887.2,1016.6 855.1,1043.9 657.9,1059.4 890.8,1044.3 863.2,1059.4 750.9,1047.5 682,1059.4 883.5,1015.7 705.4,1059.4 739.2,1059.4 776.4,1044.9 681.6,1059.4 718.5,1051.4 954.6,1040.6 665.3,1059.4 985,983.4 871.5,1059.4 873.7,1025 872.7,1045.7 808.9,1039.9 846.1,1059.4 1029.3,1050.8 832.6,1033.2 659.5,1059.4 866.8,1033.8 878.3,1059.4 675.4,1059.4 712,1059.4 681.4,1059.4 673,1059.4 672.6,1059.4 690.7,1059.4 746.9,1059.4 914.3,1020.1 737.6,1059.4 821.3,1059.4 763.4,1059.4 929,1059.4 915.9,1046.2 1039.5,1052.3 831.2,1038.9 687.9,1059.4 731.8,1050.9 982.2,1051.9 930.6,1059.4 705.6,1059.4 921,1004.2 728.5,1059.4 823.7,1059.4 723.7,1049.9 875.5,1043.1 783.5,1047.5 873.5,1019.3 799,1059.4 928,1008.4 777.2,1047 884.1,1042.2 866.6,1027.7 760.3,1059.4 706.8,1059.4 782.7,1059.4 712.2,1059.4 766.4,1059.4 899.6,1010.1 794,1050.3 783.7,1059.4 706.4,1059.4 838.6,1059.4 697.1,1051.6 708.4,1059.4 708.2,1059.4 882.1,1022 693.1,1059.4 892.4,1042.4 718.7,1059.4 736.6,1049.2 674.6,1059.4 733.8,1059.4 1039.7,1052.1 830.4,1059.4 868.2,1023 684.4,1059.4 771.2,1048 984.4,1044.1 691.7,1059.4 755.7,1059.4 661.3,1059.4 898,1059.4 826,1041.3 690.5,1051.6 857.8,1059.4 856.6,1059.4 780.7,1059.4 756.1,1059.4 837.6,1038.1 759.5,1059.4 786.5,1059.4 712.8,1059.4 919.8,1017.3 702,1059.4 814.3,1037.3 766.2,1059.4 832.8,1059.4 688.9,1059.4 790.9,1041.3 882.5,1059.4 1017.2,1052.2 833.2,1059.4 852.3,1026.3 850.1,1032.1 1009.1,1015.8 979.1,1014.4 713,1059.4 792.5,1059.4 838.8,1041.1 762.1,1059.4 694.5,1059.4 802.4,1040.3 883.9,1015.6 988.6,1051.6 898.2,1059.4 990.2,1011.2 730.7,1059.4 854.9,1038.7 790.1,1059.4 847.3,1059.4 791.5,1059.4 827,1059.4 915.3,1044.6 900.6,1048.2 845.9,1034.2 735.8,1059.4 733,1059.4 896.2,1059.4 819.1,1059.4 893,1059.4 925.4,1059.4 724.7,1059.4 847.5,1059.4 809.9,1059.4 723.3,1051.7 691.5,1059.4 747.9,1059.4 851.1,1059.4 945.3,998.6 926.2,1050.1 729.9,1059.4 988.2,1051.3 887.4,1020.3 703.8,1059.4 724.3,1051.2 940.3,1041.8 677.8,1059.4 664.3,1059.4 999.9,1050.8 747.1,1059.4 687.7,1059.4 727.3,1059.4 796.6,1059.4 685.7,1059.4 684.6,1059.4 998.3,1034.4 799.8,1040.3 722.9,1059.4 764.4,1059.4 1011,1022.3 751.9,1059.4 808,1059.4 884.5,1059.4 692.1,1059.4 786.7,1059.4 795.8,1043.2 674,1059.4 731.4,1059.4 902.5,1010.2 962.8,1048.7 910.9,1012.8 714.6,1059.4 946.9,1015 757.9,1047.5 975.9,1022.8 674.2,1059.4 835.2,1059.4 692.5,1059.4 797.4,1059.4 666.7,1059.4 765.4,1059.4 692.9,1059.4 894.4,1059.4 850.7,1038.5 895.2,1029.1 815.7,1059.4 792.7,1041.4 869.8,1035.6 958.2,1059.4 914.7,1044.6 805.2,1040 736.4,1059.4 685.3,1059.4 729.7,1059.4 755.3,1048.9 883.1,1030.4 907.7,1026.2 1031.1,1059.4 779.3,1059.4 684,1059.4 785.9,1059.4 721.9,1059.4 744.6,1059.4 899.2,1010.6 909.9,1059.4 748.9,1059.4 827.8,1059.4 966.3,980.5 1055,890.2 1026.3,943.2 968.9,977.7 825.6,1035.1 932,998.9 770.4,1059.4 1009.5,953.9 908.5,1009.1 1011.4,961.3 1043.4,922.6 841.3,1032.7 957.6,984.9 964.1,989.7 1000.3,961.9 963.9,985.2 855.6,1027.4 1010.6,969.7 867.4,1021.7 1002.1,966.7 842.3,1029.7 924.6,1001.2 998.5,981.1 1048,924.5 1033.1,932.5 842.1,1038.3 1025.9,940.5 1018.2,950.5 814.7,1039.7 836.8,1038.6 719.9,1059.4 1011.8,954.2 960,982.8 1055.2,899.1 887,1016.5 1045.8,921.2 803,1045.1 1044.2,923.3 1029.7,937.5 994.9,967.5 910.3,1008.2 858.4,1028 1059.3,862.6 939.9,996.1 1040.1,951.6 1055.4,896.5 932.4,1000.9 817.3,1036.8 938.9,996.4 900.8,1009.8 859,1032.2 1051.8,902.7 886.6,1027.2 1036.9,929.8 952.6,988.1 857.4,1025.2 955,993.7 1024,971.3 1004.7,959.2 1056,879.6 1006.7,956.7 926.8,1003.9 912.9,1021.8 1028.1,952.6 969.9,979.2 1023.8,943 829,1033.5 874.5,1019.2 824.4,1037.1 913.1,1005.6 1043.8,942.2 972.5,978.4 1046.8,913.4 1012,956 844.9,1028.3 993,967.3 994.2,964.7 920.4,1004.3 903.3,1017.5 1035.7,940.2 1027.5,945.6 947.9,990.5 800.4,1040.1 1011.2,952.9 938.3,1003 838,1031.3 1051.2,901.5 809.5,1038.8 727.5,1059.4 961.2,999.4 717.1,1059.4 849.5,1034.7 988.4,970.4 891.4,1018.3 1043.2,948.4 867.8,1022.1 1055.6,885.9 1057.9,871.4 922,1003.6 971.9,979.8 943.3,995.6 997.1,977.1 982.6,971.7 885.1,1024.7 1029.1,937.2 935.3,997.9 1039.9,925.1 913.3,1006.7 936.7,997.2 925.6,1000.6 935.1,998.2 1034.5,931.3 977.3,986.3 1025.2,941.3 913.9,1005.4 1021.6,944.3 1026.1,945.9 670,1059.4 940.5,996.2 968.7,978.6 935.5,1000.5 1045.6,930.2 956,986 904.1,1012 818.1,1040.4 1036.7,928.5 1023,975.5 979.8,972.9 788.5,1043.7 1049.4,908.3 989.2,970.2 1004.5,958.7 760.1,1059.4 961.4,984 1013.6,955 959.8,998 1016,963.6 1016.6,951.1 1023.6,946.2 956.8,985.6 943.1,993.3 914.9,1006.2 950.4,992.7 1018,947.6 875.9,1018.5 977.5,977.5 1021.8,957.7 1013,952.3 1038.5,928.9 988,967.7 1015.6,950 744,1059.4 1035.9,931.7 956.6,990.1 948.6,991 903.9,1018.2 1046.4,932.1 960.8,982.6 1013.4,951.8 959,983.8 761.9,1046.1 973.1,975.2 1047.2,939.9 822.1,1036.7 1051.4,906.7 923,1004.1 1057.1,904.9 1052.8,912 1026.7,940.8 843.5,1037.8 1007.5,956.9 869.2,1021 949,997.8 835.8,1034.3 921.2,1016.4 1002.3,961.1 1015,953.4 865.2,1023.4 1003.5,960.6 1059.5,854.8 1054.6,892.2 1058.9,873.4 950.2,999 965.9,981.4 930,999.8 933.9,998.3 1009.9,954.7 1052,910.6 1049,909.8 1050.6,917 951.8,994.8 957,985.4 919.4,1003.5 987,967.9 1056.4,882.8 887.6,1020.9 958.4,988.6 917.4,1007.2 875.7,1021.6 735.6,1059.4 1035.5,946.7 1034.9,941.9 1040.5,939.3 812.5,1040.2 934.9,999.3 990.4,968.2 972.7,976.7 1040.9,929.3 938.5,998.5 939.7,997.6 1022,962.8 1036.3,941 980.6,971.5 742.2,1059.4 1044.6,926.1 1027.3,963.8 1029.5,941.6 1002.7,959.7 912.1,1009 814.5,1038.8 1018.8,951.3 1018.6,962.6 1049.8,915.5 1038.7,925.6 1047.4,912.7 901.4,1012.4 1031.5,934.4 1031.7,935.1 873.9,1019.5 975.3,974 873.3,1025.4 923.6,1004.9 1045,928.1 965.3,980.7 1040.7,930.9 736.2,1059.4 912.3,1005.5 822.5,1037.5 679.6,1059.4 986.8,976.5 1037.5,927.1 1023.4,944.6 745.8,1059.4 715.4,1059.4 784.3,1042.6 1046.6,914.7 805,1041 941.9,994.6 817.5,1037.4 939.3,995.8 825.8,1039.6 1006.1,957.4 1017.8,949.2 864.2,1022.6 749.5,1059.4 933.7,998.8 899.4,1010.7 1000.7,962.2 1018.4,947 1042.8,935.5 1026.5,938.9 857.6,1024.6 1044,918.3 1004.9,957.9 962,986.7 1048.2,920.5 803.2,1059.4 1012.4,955.5 1014,968.6 954.4,987.6 776,1059.4 945.1,996.6 984,971.8 771,1059.4 903.5,1008.8 1030.1,942.4 938.1,996.5 980.2,973.1 1034.7,933.7 999.7,960.9 919.6,1020.1 1047.8,914.1 801.6,1039.8 1038.9,945.4 948.4,992.5 1005.5,969.3 867,1025.9 1044.8,927.6 1042.2,922 874.1,1026.5 1032.3,938.6 1012.6,962.1 984.2,972.4 892.8,1014.9 911.1,1009.5 982,970.8 1012.8,963.2 967.9,979.6 1046.2,917.6 1050.8,916.2 1017.6,947.9 871.1,1020 909.7,1011.6 902.3,1009.2 973.7,978.2 854.7,1026.1 801.8,1039.8 992.2,968.4 976.9,984.5 946.5,991.6 999.3,974.4 1037.9,939.6 1007.7,961.5 899,1013.7 1024.6,972.5 976.1,975.7 985.2,987.4 1048.8,955.2 1002.5,959.9 878.1,1047.4 717.7,1059.4 821.5,1043.3 1043,926.6 1003.3,997.5 1059.9,844.3 1028.9,942.7 817.1,1042.2 1006.5,975.9 951.2,988.8 1017,954.5 896.8,1014.2 920.6,1008.1 964.3,989.4 996.5,991.2 1053.8,893.7 1001.7,1011.7 1049.2,909 983,1002.7 943.5,1037.6 971.1,988.3 949.4,992.9 880.1,1031 953.8,1000 944.7,1002.9 1032.7,950.3 1042.6,961.7 947.5,992.3 888.4,1014.5 798.6,1059.4 1016.2,948.7 1058.3,895.1 944.9,993.1 1056.9,949.7 816.5,1041.2 1007.9,955.7 911.3,1006.3 975.1,975 1042.4,919.8 1057.3,911.3 982.4,970.6 978.9,983.2 1053.6,897.8 1004.3,958.4 936.1,1005.9 1024.2,946.5 772,1050.3 1019.2,958.9 951,995 885.9,1027.1 1035.1,936.2 1003.9,965.6 918.8,1020.8 1059.1,867.9 958.6,997.4 993.6,964.5 909.5,1020.7 1056.2,905.9 851.9,1044.8 816.9,1045.2 882.9,1043.8 950.6,999.2 1022.8,949 869.4,1040.6 772.4,1047 1050.2,903.8 747.5,1059.4 1041.8,923.9 968.3,983.6 975.7,995.2 759.3,1059.4 940.1,995.4 986.6,999.6 898.8,1031.1 949.6,1018.8 1014.6,1020.4 787.7,1048.5 974.5,989.9 989.4,972.2 981,980 1058.5,888.4 1014.2,972 916.3,1046.7 997.5,965.5 939.5,995.9 1025.4,945.1 1007.1,964 987.2,971.1 911.5,1006.4 1005.3,966.4 941.3,1007.5 877.5,1018.9 1015.8,981.6 952.2,996.9 805.8,1059.4 892.2,1013.2 1037.7,981.3 1054.8,992.1 972.3,978.8 966.9,1003.2 961.6,987.9 931.2,1001 944.5,1042.8 978.5,972.7 986.4,987.2 1033.3,944.9 826.6,1048.6 962.2,981.8 894.2,1029.4 864.8,1045 903.1,1010 1014.8,952.1 789.3,1047.7 953.6,1008.6 918.6,1007.1 1032.5,932.9 1044.4,919 847.7,1039.5 918,1040.7 744.8,1048.9 958.8,989.2 858.8,1029.2 969.5,1002.6 771.4,1049.6 871.9,1030 742,1048.3 1032.1,938.2 808.6,1046.8 788.3,1047.8 910.5,1006.6 958,984.7 819.7,1049.1 840.7,1039.1 967.3,986.9 933.5,1000.1 976.3,982.4 762.8,1059.4 909.1,1009.6 931.6,1020.5 940.9,1028.4 711.2,1050.4 987.6,979.4 924.2,1002 1054.2,959.4 1009.7,1008.9 1034.1,953.7 811.3,1040.9 941.5,994.4 1010.1,958.2 1057.7,900.4 911.7,1029.5 802.6,1049.4 1051,948.2 889,1022.9 794.6,1043.1 988.8,966.9 932.9,1002.5 1027.9,937.9 960.4,1007.7 979.4,990.7 829.2,1044.7 1038.1,1022.2 1012.2,967.1 1058.7,1026.6 1036.5,947.3 844.7,1047.3 1016.4,979 1036.1,956.5 1028.3,978 698.3,1059.4 909.3,1014.7 1033.5,936.8 968.1,984.3 821.9,1049.6 940.7,1039.1 973.9,991.4 928.2,1003.8 967.5,993.5 893.8,1019.1 1031.3,976.1 978.7,973.5 989,974.8 905.7,1010.5 991.6,966 980.4,980.9 1056.6,953.1 1040.3,930.5 1031.9,934 997.3,969.5 981.6,986.5 1034.3,989 1052.4,907.6 931,1001.6 947.3,1001.3 922.6,1004.5 916.9,1004.6 942.5,994.2 1042,944 870.4,1024.3 1029.9,936.5 780.3,1049 931.8,1000.2 824.1,1047.4 882.3,1036.9 987.4,1021.9 1035.3,1005.2 993.2,977.3 763,1059.4 810.3,1050 1033.9,943.8 1001.1,965.3 859.6,1046 1047.6,934.7 726.9,1059.4 983.2,976.9 997.9,965.8 886.8,1037.3 1050,983 1059.7,960.4 784.5,1045.2 858,1023.6 1023.2,943.5 1047,968.1 1021.2,957.2 985.8,971 724.1,1059.4 1006.3,960.1 972.9,1019 945.5,1001.4 1030.5,970.1 907.9,1012.3 1033.7,933.3 1006.9,956.2 970.1,982 828.4,1043.6 847.9,1027.5 1001.3,964.9 994,964.4 857.2,1028.7 658.3,1059.4 1054.4,935.8 996.3,965.1 815.1,1037.1 832.4,1032.5 901.2,1009.7 822.9,1059.4 681.8,1059.4 831.6,1059.4 697.5,1052 965.7,1006 746.6,1050.9 777.9,1059.4 956.2,1047.3 777.6,1059.4 841.1,1034.4 1054,1059.4 925.2,1048.3 1022.4,1052 782.9,1046.3 977.7,1051 696.9,1052.2 911.9,1018.7 932.2,1046.4 685.1,1059.4 1043.6,1049.7 900.2,1013.3 671.4,1059.4 657.5,1059.4 715.9,1051.7 991.8,1019.4 875.1,1022.2 955.8,1050.7 971.3,1059.4 779.9,1052.3 659.1,1059.4 704.8,1059.4 999.5,963.4 683.8,1059.4 790.5,1059.4 968.5,980.2 881.9,1046.3 895.4,1017.8 770,1059.4 673.6,1059.4 908.3,1007.6 885.7,1037 747.7,1059.4 682.4,1059.4 948.8,1059.4 937.5,1059.4 1057.5,1049.5 831,1033.4 731.1,1059.4 714,1059.4 1030.9,1051.5 977.9,980.3 764.2,1051.5 743.4,1059.4 757.5,1059.4 1028.5,1048.5 934.3,1050.3 744.4,1049 930.4,1047.1 929.4,1047.2 921.6,1045.6 775.6,1059.4 741.8,1059.4 690.9,1059.4 924,1059.4 1030.7,1059.4 696.5,1052.1 941.7,1059.4 1038.3,1059.4 772.2,1059.4 897.8,1011 995.3,969 974.9,1024.8 861,1033 682.6,1059.4 950,1044.3 748.3,1051.2 891.6,1013.9 843.7,1035.3 767.6,1059.4 823.9,1046.4 700.4,1059.4 903.7,1059.4 678.8,1059.4 865.8,1041.9 787.9,1050.5 913.7,1049.7 737.2,1059.4 1058.1,1045 1021.4,1051.6 876.1,1059.4 859.2,1048.5 837.8,1030.5 888.8,1059.4 820.9,1044.5 845.5,1031.7 723.1,1051.8 796.8,1052.1 860,1026.8 758.9,1059.4 717.9,1059.4 669.1,1059.4 896,1059.4 957.2,1049.5 980,1031.9 804,1042.6 885.3,1033.9 879.1,1017.6 724.5,1059.4 942.7,1045.4 899.8,1045.4 724.9,1052.2 878.5,1048.8 922.2,1017.7 828.6,1059.4 823.1,1059.4 845.1,1035.7 832,1048.4 761.3,1059.4 1027.7,1050.2 1048.6,1050.6 674.8,1059.4 808.2,1059.4 812.7,1059.4 1037.1,1048.7 1008.3,963 691.1,1059.4 749.7,1059.4 897,1011.3 929.6,1059.4 983.8,969.9 1032.9,1051.5 688.7,1059.4 661.9,1059.4 863.8,1059.4 758.1,1059.4 674.4,1059.4 850.9,1028.1 1053.4,1046.6 973.3,1059.4 884.9,1041.9 944.3,1051 672.8,1059.4 976.5,1023.5 1055.8,1022.5 914.5,1059.4 734.8,1059.4 663.7,1059.4 794.4,1059.4 960.2,999.7 1002.9,1046.2 1052.6,1059.4 904.7,1048.1 862.4,1040 943.7,1003.1 733.6,1059.4 1000.1,982.2 904.5,1045.2 729.1,1050.5 927.8,1049.1 770.2,1048.7 1053,1059.4 1013.2,1049.2 838.4,1059.4 705.8,1059.4 986,969.1 730.9,1059.4 928.4,1027.6 978.3,1051.2 944.1,1059.4 963,1059.4 830,1044.2 1021,1047.9 806,1059.4 971.5,976.3 706.2,1059.4 764.6,1059.4 966.5,1042.3 752.1,1048.5 996.1,1059.4 685.5,1059.4 983.6,1048.3 730.5,1049.1 801,1059.4 770.6,1059.4 746.4,1059.4 920.8,1030.6 782.3,1059.4 881.3,1017.1 992.8,1030.1 662.3,1059.4 663.3,1059.4 967.7,1050.5 668.3,1059.4 885.5,1016.1 777.4,1047.9 795.2,1040.7 878.9,1059.4 816.3,1041.6 915.7,1024.9 813.9,1059.4 965.1,1051.1 836.2,1034 889.4,1059.4 966.7,1059.4 833.4,1034.6 859.8,1033.6 702.8,1059.4 715.6,1059.4 1025,1051.1 763.2,1059.4 842.7,1036.3 841.7,1034.5 1041.6,1059.4 1025.6,1052 1009.3,1048 672.4,1059.4 996.9,1051.7 689.1,1059.4 823.5,1059.4 676.8,1059.4 906.1,1059.4 910.1,1008.3 1019.4,1052 868.6,1059.4 1022.6,1052.1 901.9,1024.2 695.1,1059.4 673.4,1059.4 991.2,1059.4 952.8,1048.9 1050.4,1048.1 918.4,1041.7 856.4,1059.4 926,1040.8 893.4,1059.4 868.8,1045.3 783.9,1059.4 821.7,1059.4 755.5,1059.4 1019,1042.3 906.9,1017 890.6,1035.4 973.5,1051 917.8,1059.4 664.1,1059.4 684.2,1052.1 1016.8,1049.5 781.5,1059.4 933.1,1010.3 1048.4,1049.7 1049.6,1048.8 949.2,1050.3 762.6,1059.4 888,1059.4 888.2,1029.9 834.4,1059.4 1053.2,1051.8" fill="none" stroke="none" marker-start="url(#mg)" marker-mid="url(#mg)" marker-end="url(#mg)"/>
<g clip-path="url(#c11)" fill="none" stroke-width="1.39" stroke-linecap="square">
<path d="M672.5 1059.5H682.5V1059.5H672.5ZM677.5 1059.5V1059.5M677.5 1059.5V1059.5M675.5 1059.5H680.5M675.5 1059.5H680.5M692.5 1059.5H703.5V1059.5H692.5ZM698.5 1059.5V1059.5M698.5 1059.5V1059.5M695.5 1059.5H700.5M695.5 1059.5H700.5M713.5 1059.5H723.5V1059.5H713.5ZM718.5 1059.5V1059.5M718.5 1059.5V1059.5M715.5 1059.5H720.5M715.5 1059.5H720.5M733.5 1059.5H743.5V1059.5H733.5ZM738.5 1059.5V1059.5M738.5 1059.5V1059.5M735.5 1059.5H740.5M735.5 1059.5H740.5M753.5 1059.5H763.5V1057.5H753.5ZM758.5 1059.5V1059.5M758.5 1057.5V1057.5M755.5 1059.5H760.5M755.5 1057.5H760.5M773.5 1059.5H783.5V1047.5H773.5ZM778.5 1059.5V1059.5M778.5 1047.5V1043.5M776.5 1059.5H781.5M776.5 1043.5H781.5M793.5 1059.5H803.5V1045.5H793.5ZM798.5 1059.5V1059.5M798.5 1045.5V1040.5M796.5 1059.5H801.5M796.5 1040.5H801.5M813.5 1059.5H823.5V1039.5H813.5ZM818.5 1059.5V1059.5M818.5 1039.5V1036.5M816.5 1059.5H821.5M816.5 1036.5H821.5M833.5 1059.5H843.5V1035.5H833.5ZM838.5 1059.5V1059.5M838.5 1035.5V1030.5M836.5 1059.5H841.5M836.5 1030.5H841.5M854.5 1059.5H864.5V1030.5H854.5ZM859.5 1059.5V1059.5M859.5 1030.5V1024.5M856.5 1059.5H861.5M856.5 1024.5H861.5M874.5 1046.5H884.5V1023.5H874.5ZM879.5 1046.5V1059.5M879.5 1023.5V1016.5M876.5 1059.5H881.5M876.5 1016.5H881.5M894.5 1046.5H904.5V1017.5H894.5ZM899.5 1046.5V1059.5M899.5 1017.5V1010.5M896.5 1059.5H901.5M896.5 1010.5H901.5M914.5 1046.5H924.5V1009.5H914.5ZM919.5 1046.5V1059.5M919.5 1009.5V1002.5M916.5 1059.5H921.5M916.5 1002.5H921.5M934.5 1048.5H944.5V1000.5H934.5ZM939.5 1048.5V1059.5M939.5 1000.5V994.5M937.5 1059.5H942.5M937.5 994.5H942.5M954.5 1033.5H964.5V990.5H954.5ZM959.5 1033.5V1059.5M959.5 990.5V982.5M957.5 1059.5H962.5M957.5 982.5H962.5M974.5 1045.5H984.5V980.5H974.5ZM979.5 1045.5V1059.5M979.5 980.5V972.5M977.5 1059.5H982.5M977.5 972.5H982.5M994.5 1038.5H1005.5V967.5H994.5ZM999.5 1038.5V1059.5M999.5 967.5V960.5M997.5 1059.5H1002.5M997.5 960.5H1002.5M1015.5 1034.5H1025.5V954.5H1015.5ZM1020.5 1034.5V1059.5M1020.5 954.5V946.5M1017.5 1059.5H1022.5M1017.5 946.5H1022.5M1035.5 1050.5H1045.5V937.5H1035.5ZM1040.5 1050.5V1059.5M1040.5 937.5V923.5M1037.5 1059.5H1042.5M1037.5 923.5H1042.5M1055.5 1030.5H1065.5V909.5H1055.5ZM1060.5 1030.5V1052.5M1060.5 909.5V853.5M1057.5 1052.5H1062.5M1057.5 853.5H1062.5M1075.5 844.5H1085.5V844.5H1075.5ZM1080.5 844.5V844.5M1080.5 844.5V844.5M1077.5 844.5H1083.5M1077.5 844.5H1083.5" stroke="#000"/>
<path d="M672.5 1059.5H682.5M692.5 1059.5H703.5M713.5 1059.5H723.5M733.5 1059.5H743.5M753.5 1059.5H763.5M773.5 1059.5H783.5M793.5 1059.5H803.5M813.5 1048.5H823.5M833.5 1041.5H843.5M854.5 1036.5H864.5M874.5 1029.5H884.5M894.5 1029.5H904.5M914.5 1019.5H924.5M934.5 1013.5H944.5M954.5 996.5H964.5M974.5 992.5H984.5M994.5 973.5H1005.5M1015.5 963.5H1025.5M1035.5 945.5H1045.5M1055.5 927.5H1065.5M1075.5 844.5H1085.5" stroke="#ff7f0e"/>
</g>
<path d="M657.5 648.5H1080.5V1068.5H657.5Z" fill="none" stroke="#000" stroke-width="1.1" stroke-linejoin="miter"/>
<path d="M677.5 1068.5v5M698.5 1068.5v5M718.5 1068.5v5M738.5 1068.5v5M758.5 1068.5v5M778.5 1068.5v5M798.5 1068.5v5M818.5 1068.5v5M838.5 1068.5v5M859.5 1068.5v5M879.5 1068.5v5M899.5 1068.5v5M919.5 1068.5v5M939.5 1068.5v5M959.5 1068.5v5M979.5 1068.5v5M999.5 1068.5v5M1020.5 1068.5v5M1040.5 1068.5v5M1060.5 1068.5v5M1080.5 1068.5v5" stroke="#000" stroke-width="1.1" fill="none"/>
<path d="M657.5 1068.5h-5M657.5 1003.5h-5M657.5 939.5h-5M657.5 874.5h-5M657.5 810.5h-5M657.5 745.5h-5M657.5 680.5h-5" stroke="#000" stroke-width="1.1" fill="none"/>
<text x="253.19" y="136.07" font-size="16.67" textLength="216.05" lengthAdjust="spacingAndGlyphs">Ranks - (red &gt;= 0.10 IDR)</text>
<text x="309.05" y="604.23" font-size="13.89" fill="#161616" textLength="104.62" lengthAdjust="spacingAndGlyphs">Sample 1 Rank</text>
<text x="56.42" y="354.7" font-size="13.89" fill="#161616" textLength="104.5" lengthAdjust="spacingAndGlyphs" transform="rotate(-90 108.67 354.7)">Sample 2 Rank</text>
<text x="140.06" y="584.67" font-size="13.89" fill="#0b0b0b" textLength="20.27" lengthAdjust="spacingAndGlyphs">0.0</text>
<text x="224.61" y="584.67" font-size="13.89" fill="#0b0b0b" textLength="20.27" lengthAdjust="spacingAndGlyphs">0.2</text>
<text x="309.15" y="584.67" font-size="13.89" fill="#0b0b0b" textLength="20.27" lengthAdjust="spacingAndGlyphs">0.4</text>
<text x="393.64" y="584.67" font-size="13.89" fill="#0b0b0b" textLength="20.4" lengthAdjust="spacingAndGlyphs">0.6</text>
<text x="478.18" y="584.67" font-size="13.89" fill="#0b0b0b" textLength="20.4" lengthAdjust="spacingAndGlyphs">0.8</text>
<text x="562.73" y="584.67" font-size="13.89" fill="#0b0b0b" textLength="20.4" lengthAdjust="spacingAndGlyphs">1.0</text>
<text x="119.25" y="569.95" font-size="13.89" fill="#0b0b0b" textLength="20.27" lengthAdjust="spacingAndGlyphs">0.0</text>
<text x="119.25" y="485.95" font-size="13.89" fill="#0b0b0b" textLength="20.27" lengthAdjust="spacingAndGlyphs">0.2</text>
<text x="119.25" y="401.95" font-size="13.89" fill="#0b0b0b" textLength="20.27" lengthAdjust="spacingAndGlyphs">0.4</text>
<text x="119.13" y="317.95" font-size="13.89" fill="#0b0b0b" textLength="20.4" lengthAdjust="spacingAndGlyphs">0.6</text>
<text x="119.13" y="233.95" font-size="13.89" fill="#0b0b0b" textLength="20.4" lengthAdjust="spacingAndGlyphs">0.8</text>
<text x="119.13" y="149.95" font-size="13.89" fill="#0b0b0b" textLength="20.4" lengthAdjust="spacingAndGlyphs">1.0</text>
<text x="730.02" y="136.07" font-size="16.67" textLength="276.93" lengthAdjust="spacingAndGlyphs">Log10 Scores - (red &gt;= 0.10 IDR)</text>
<text x="792.7" y="604.23" font-size="13.89" fill="#161616" textLength="151.88" lengthAdjust="spacingAndGlyphs">Sample 1 log10 Score</text>
<text x="540.07" y="354.7" font-size="13.89" fill="#161616" textLength="151.75" lengthAdjust="spacingAndGlyphs" transform="rotate(-90 615.94 354.7)">Sample 2 log10 Score</text>
<text x="690.56" y="584.67" font-size="13.89" fill="#0b0b0b" textLength="20.27" lengthAdjust="spacingAndGlyphs">0.5</text>
<text x="747.16" y="584.67" font-size="13.89" fill="#0b0b0b" textLength="20.4" lengthAdjust="spacingAndGlyphs">1.0</text>
<text x="803.83" y="584.67" font-size="13.89" fill="#0b0b0b" textLength="20.4" lengthAdjust="spacingAndGlyphs">1.5</text>
<text x="860.56" y="584.67" font-size="13.89" fill="#0b0b0b" textLength="20.27" lengthAdjust="spacingAndGlyphs">2.0</text>
<text x="917.22" y="584.67" font-size="13.89" fill="#0b0b0b" textLength="20.27" lengthAdjust="spacingAndGlyphs">2.5</text>
<text x="973.89" y="584.67" font-size="13.89" fill="#0b0b0b" textLength="20.27" lengthAdjust="spacingAndGlyphs">3.0</text>
<text x="1030.56" y="584.67" font-size="13.89" fill="#0b0b0b" textLength="20.27" lengthAdjust="spacingAndGlyphs">3.5</text>
<text x="626.53" y="528.44" font-size="13.89" fill="#0b0b0b" textLength="20.27" lengthAdjust="spacingAndGlyphs">0.5</text>
<text x="626.4" y="472.94" font-size="13.89" fill="#0b0b0b" textLength="20.4" lengthAdjust="spacingAndGlyphs">1.0</text>
<text x="626.4" y="417.44" font-size="13.89" fill="#0b0b0b" textLength="20.4" lengthAdjust="spacingAndGlyphs">1.5</text>
<text x="626.53" y="361.95" font-size="13.89" fill="#0b0b0b" textLength="20.27" lengthAdjust="spacingAndGlyphs">2.0</text>
<text x="626.53" y="306.45" font-size="13.89" fill="#0b0b0b" textLength="20.27" lengthAdjust="spacingAndGlyphs">2.5</text>
<text x="626.53" y="250.95" font-size="13.89" fill="#0b0b0b" textLength="20.27" lengthAdjust="spacingAndGlyphs">3.0</text>
<text x="626.53" y="195.46" font-size="13.89" fill="#0b0b0b" textLength="20.27" lengthAdjust="spacingAndGlyphs">3.5</text>
<text x="235.63" y="640.07" font-size="16.67" textLength="251.18" lengthAdjust="spacingAndGlyphs">Sample 1 Ranks vs IDR Values</text>
<text x="290.3" y="1108.23" font-size="13.89" fill="#161616" textLength="142.12" lengthAdjust="spacingAndGlyphs">Sample 1 Peak Rank</text>
<text x="85.55" y="858.7" font-size="13.89" fill="#161616" textLength="72.5" lengthAdjust="spacingAndGlyphs" transform="rotate(-90 121.8 858.7)">-log10 IDR</text>
<text x="166.39" y="1088.67" font-size="13.89" fill="#0b0b0b" textLength="8.22" lengthAdjust="spacingAndGlyphs">1</text>
<text x="186.58" y="1088.67" font-size="13.89" fill="#0b0b0b" textLength="8.1" lengthAdjust="spacingAndGlyphs">2</text>
<text x="206.71" y="1088.67" font-size="13.89" fill="#0b0b0b" textLength="8.1" lengthAdjust="spacingAndGlyphs">3</text>
<text x="226.84" y="1088.67" font-size="13.89" fill="#0b0b0b" textLength="8.1" lengthAdjust="spacingAndGlyphs">4</text>
<text x="246.97" y="1088.67" font-size="13.89" fill="#0b0b0b" textLength="8.1" lengthAdjust="spacingAndGlyphs">5</text>
<text x="267.04" y="1088.67" font-size="13.89" fill="#0b0b0b" textLength="8.22" lengthAdjust="spacingAndGlyphs">6</text>
<text x="287.23" y="1088.67" font-size="13.89" fill="#0b0b0b" textLength="8.1" lengthAdjust="spacingAndGlyphs">7</text>
<text x="307.3" y="1088.67" font-size="13.89" fill="#0b0b0b" textLength="8.22" lengthAdjust="spacingAndGlyphs">8</text>
<text x="327.43" y="1088.67" font-size="13.89" fill="#0b0b0b" textLength="8.22" lengthAdjust="spacingAndGlyphs">9</text>
<text x="343.54" y="1088.67" font-size="13.89" fill="#0b0b0b" textLength="15.82" lengthAdjust="spacingAndGlyphs">10</text>
<text x="363.6" y="1088.67" font-size="13.89" fill="#0b0b0b" textLength="15.95" lengthAdjust="spacingAndGlyphs">11</text>
<text x="383.8" y="1088.67" font-size="13.89" fill="#0b0b0b" textLength="15.82" lengthAdjust="spacingAndGlyphs">12</text>
<text x="403.93" y="1088.67" font-size="13.89" fill="#0b0b0b" textLength="15.82" lengthAdjust="spacingAndGlyphs">13</text>
<text x="424.06" y="1088.67" font-size="13.89" fill="#0b0b0b" textLength="15.82" lengthAdjust="spacingAndGlyphs">14</text>
<text x="444.19" y="1088.67" font-size="13.89" fill="#0b0b0b" textLength="15.82" lengthAdjust="spacingAndGlyphs">15</text>
<text x="464.25" y="1088.67" font-size="13.89" fill="#0b0b0b" textLength="15.95" lengthAdjust="spacingAndGlyphs">16</text>
<text x="484.45" y="1088.67" font-size="13.89" fill="#0b0b0b" textLength="15.82" lengthAdjust="spacingAndGlyphs">17</text>
<text x="504.51" y="1088.67" font-size="13.89" fill="#0b0b0b" textLength="15.95" lengthAdjust="spacingAndGlyphs">18</text>
<text x="524.64" y="1088.67" font-size="13.89" fill="#0b0b0b" textLength="15.95" lengthAdjust="spacingAndGlyphs">19</text>
<text x="544.9" y="1088.67" font-size="13.89" fill="#0b0b0b" textLength="15.7" lengthAdjust="spacingAndGlyphs">20</text>
<text x="564.96" y="1088.67" font-size="13.89" fill="#0b0b0b" textLength="15.82" lengthAdjust="spacingAndGlyphs">21</text>
<text x="132.23" y="1073.6" font-size="13.89" fill="#0b0b0b" textLength="7.9" lengthAdjust="spacingAndGlyphs">0</text>
<text x="132.1" y="1008.98" font-size="13.89" fill="#0b0b0b" textLength="8.03" lengthAdjust="spacingAndGlyphs">1</text>
<text x="132.23" y="944.37" font-size="13.89" fill="#0b0b0b" textLength="7.9" lengthAdjust="spacingAndGlyphs">2</text>
<text x="132.23" y="879.75" font-size="13.89" fill="#0b0b0b" textLength="7.9" lengthAdjust="spacingAndGlyphs">3</text>
<text x="132.23" y="815.14" font-size="13.89" fill="#0b0b0b" textLength="7.9" lengthAdjust="spacingAndGlyphs">4</text>
<text x="132.23" y="750.52" font-size="13.89" fill="#0b0b0b" textLength="7.9" lengthAdjust="spacingAndGlyphs">5</text>
<text x="132.1" y="685.91" font-size="13.89" fill="#0b0b0b" textLength="8.03" lengthAdjust="spacingAndGlyphs">6</text>
<text x="742.9" y="640.07" font-size="16.67" textLength="251.18" lengthAdjust="spacingAndGlyphs">Sample 2 Ranks vs IDR Values</text>
<text x="797.64" y="1108.23" font-size="13.89" fill="#161616" textLength="142" lengthAdjust="spacingAndGlyphs">Sample 2 Peak Rank</text>
<text x="592.82" y="858.7" font-size="13.89" fill="#161616" textLength="72.5" lengthAdjust="spacingAndGlyphs" transform="rotate(-90 629.07 858.7)">-log10 IDR</text>
<text x="673.67" y="1088.67" font-size="13.89" fill="#0b0b0b" textLength="8.22" lengthAdjust="spacingAndGlyphs">1</text>
<text x="693.86" y="1088.67" font-size="13.89" fill="#0b0b0b" textLength="8.1" lengthAdjust="spacingAndGlyphs">2</text>
<text x="713.99" y="1088.67" font-size="13.89" fill="#0b0b0b" textLength="8.1" lengthAdjust="spacingAndGlyphs">3</text>
<text x="734.12" y="1088.67" font-size="13.89" fill="#0b0b0b" textLength="8.1" lengthAdjust="spacingAndGlyphs">4</text>
<text x="754.25" y="1088.67" font-size="13.89" fill="#0b0b0b" textLength="8.1" lengthAdjust="spacingAndGlyphs">5</text>
<text x="774.31" y="1088.67" font-size="13.89" fill="#0b0b0b" textLength="8.22" lengthAdjust="spacingAndGlyphs">6</text>
<text x="794.51" y="1088.67" font-size="13.89" fill="#0b0b0b" textLength="8.1" lengthAdjust="spacingAndGlyphs">7</text>
<text x="814.57" y="1088.67" font-size="13.89" fill="#0b0b0b" textLength="8.22" lengthAdjust="spacingAndGlyphs">8</text>
<text x="834.7" y="1088.67" font-size="13.89" fill="#0b0b0b" textLength="8.22" lengthAdjust="spacingAndGlyphs">9</text>
<text x="850.81" y="1088.67" font-size="13.89" fill="#0b0b0b" textLength="15.82" lengthAdjust="spacingAndGlyphs">10</text>
<text x="870.88" y="1088.67" font-size="13.89" fill="#0b0b0b" textLength="15.95" lengthAdjust="spacingAndGlyphs">11</text>
<text x="891.07" y="1088.67" font-size="13.89" fill="#0b0b0b" textLength="15.82" lengthAdjust="spacingAndGlyphs">12</text>
<text x="911.2" y="1088.67" font-size="13.89" fill="#0b0b0b" textLength="15.82" lengthAdjust="spacingAndGlyphs">13</text>
<text x="931.33" y="1088.67" font-size="13.89" fill="#0b0b0b" textLength="15.82" lengthAdjust="spacingAndGlyphs">14</text>
<text x="951.46" y="1088.67" font-size="13.89" fill="#0b0b0b" textLength="15.82" lengthAdjust="spacingAndGlyphs">15</text>
<text x="971.53" y="1088.67" font-size="13.89" fill="#0b0b0b" textLength="15.95" lengthAdjust="spacingAndGlyphs">16</text>
<text x="991.72" y="1088.67" font-size="13.89" fill="#0b0b0b" textLength="15.82" lengthAdjust="spacingAndGlyphs">17</text>
<text x="1011.79" y="1088.67" font-size="13.89" fill="#0b0b0b" textLength="15.95" lengthAdjust="spacingAndGlyphs">18</text>
<text x="1031.92" y="1088.67" font-size="13.89" fill="#0b0b0b" textLength="15.95" lengthAdjust="spacingAndGlyphs">19</text>
<text x="1052.17" y="1088.67" font-size="13.89" fill="#0b0b0b" textLength="15.7" lengthAdjust="spacingAndGlyphs">20</text>
<text x="1072.24" y="1088.67" font-size="13.89" fill="#0b0b0b" textLength="15.82" lengthAdjust="spacingAndGlyphs">21</text>
<text x="639.5" y="1073.6" font-size="13.89" fill="#0b0b0b" textLength="7.9" lengthAdjust="spacingAndGlyphs">0</text>
<text x="639.38" y="1008.98" font-size="13.89" fill="#0b0b0b" textLength="8.03" lengthAdjust="spacingAndGlyphs">1</text>
<text x="639.5" y="944.37" font-size="13.89" fill="#0b0b0b" textLength="7.9" lengthAdjust="spacingAndGlyphs">2</text>
<text x="639.5" y="879.75" font-size="13.89" fill="#0b0b0b" textLength="7.9" lengthAdjust="spacingAndGlyphs">3</text>
<text x="639.5" y="815.14" font-size="13.89" fill="#0b0b0b" textLength="7.9" lengthAdjust="spacingAndGlyphs">4</text>
<text x="639.5" y="750.52" font-size="13.89" fill="#0b0b0b" textLength="7.9" lengthAdjust="spacingAndGlyphs">5</text>
<text x="639.38" y="685.91" font-size="13.89" fill="#0b0b0b" textLength="8.03" lengthAdjust="spacingAndGlyphs">6</text>
</svg></body></html>
